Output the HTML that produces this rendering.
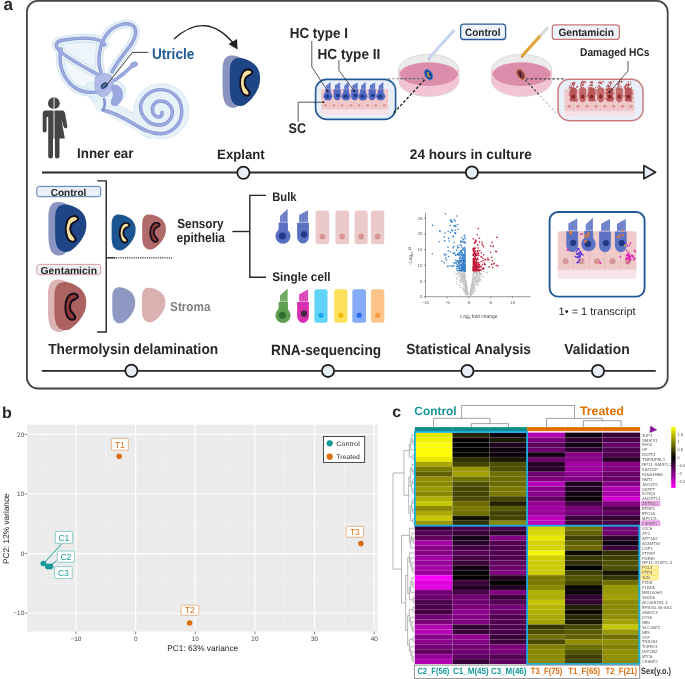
<!DOCTYPE html><html><head><meta charset="utf-8"><title>Figure</title><style>html,body{margin:0;padding:0;background:#fff;width:685px;height:679px;overflow:hidden}svg{display:block;text-rendering:geometricPrecision;will-change:transform}</style></head><body><svg width="685" height="679" viewBox="0 0 685 679" font-family='"Liberation Sans", sans-serif'><text x="3.5" y="10.3" font-size="17" font-weight="bold" fill="#262626" text-anchor="start" >a</text>
<rect x="26.9" y="0.9" width="640.8" height="387.6" rx="11" fill="none" stroke="#454545" stroke-width="1.8"/>
<line x1="42" y1="172.5" x2="644" y2="172.5" stroke="#2a2a2a" stroke-width="1.8"/>
<polygon points="643.9,165.6 643.9,178.8 655.6,172.2" fill="#e8eef8" stroke="#262626" stroke-width="1.7" stroke-linejoin="round"/>
<line x1="41.7" y1="370.8" x2="655.8" y2="370.8" stroke="#2a2a2a" stroke-width="1.8"/>
<circle cx="243.4" cy="172.7" r="6.1" fill="#e8eef8" stroke="#1e1e1e" stroke-width="1.8"/>
<circle cx="471.9" cy="172.5" r="6.1" fill="#e8eef8" stroke="#1e1e1e" stroke-width="1.8"/>
<circle cx="131.4" cy="370.8" r="6.1" fill="#e8eef8" stroke="#1e1e1e" stroke-width="1.8"/>
<circle cx="328" cy="370.9" r="6.1" fill="#e8eef8" stroke="#1e1e1e" stroke-width="1.8"/>
<circle cx="467.4" cy="371" r="6.1" fill="#e8eef8" stroke="#1e1e1e" stroke-width="1.8"/>
<circle cx="598" cy="371" r="6.1" fill="#e8eef8" stroke="#1e1e1e" stroke-width="1.8"/>
<text x="77" y="158.1" font-size="14" font-weight="bold" fill="#262626" text-anchor="start" textLength="56.5" lengthAdjust="spacingAndGlyphs" >Inner ear</text>
<text x="217.1" y="158.6" font-size="13.6" font-weight="bold" fill="#262626" text-anchor="start" textLength="47.6" lengthAdjust="spacingAndGlyphs" >Explant</text>
<text x="409.8" y="158.8" font-size="13.8" font-weight="bold" fill="#262626" text-anchor="start" textLength="122" lengthAdjust="spacingAndGlyphs" >24 hours in culture</text>
<text x="48.2" y="353.9" font-size="14.7" font-weight="bold" fill="#262626" text-anchor="start" textLength="170" lengthAdjust="spacingAndGlyphs" >Thermolysin delamination</text>
<text x="271.1" y="354.6" font-size="14.8" font-weight="bold" fill="#262626" text-anchor="start" textLength="110" lengthAdjust="spacingAndGlyphs" >RNA-sequencing</text>
<text x="406.2" y="353.9" font-size="14.6" font-weight="bold" fill="#262626" text-anchor="start" textLength="124.8" lengthAdjust="spacingAndGlyphs" >Statistical Analysis</text>
<text x="564.3" y="353.9" font-size="14.6" font-weight="bold" fill="#262626" text-anchor="start" textLength="65.3" lengthAdjust="spacingAndGlyphs" >Validation</text>
<g fill="#454545"><circle cx="53.9" cy="103.2" r="5.9"/><path d="M45.5 110.6 H62.5 Q64 110.6 65 113 L67.3 126 Q67.6 128.4 65.6 128.4 Q64 128.4 63.6 126.6 L61.5 119.5 L64.8 138.4 H59.5 V156.6 Q59.5 158.6 57.1 158.6 Q54.8 158.6 54.8 156.6 V138.4 H53 V156.6 Q53 158.6 50.6 158.6 Q48.2 158.6 48.2 156.6 V117 H46.6 V130.5 Q46.6 132.4 44.6 132.4 Q42.7 132.4 42.7 130.5 V114 Q42.7 110.6 45.5 110.6 Z"/></g>
<line x1="54" y1="96" x2="54" y2="159" stroke="#ffffff" stroke-width="0.9"/>
<path d="M99 75 C86 68 66 58 59 50 C54 45 56 41 64 40 C76 38 92 37 101 41 C103 42 104 43 104.5 45 L100 72 Z" fill="#eef5fa"/>
<path d="M61 49 C58 62 62 78 74 87 C84 94 98 94 106 88 L99 75 C86 68 66 58 61 49 Z" fill="#f1f7fb"/>
<circle cx="161.4" cy="111.2" r="27.6" fill="#e7f1f8" stroke="#cfe2ee" stroke-width="0.8"/>
<path d="M92 88 C96 100 104 106 118 112 C128 116 140 126 150 132" fill="none" stroke="#cfe2ee" stroke-width="13" stroke-linecap="round"/>
<path d="M92 88 C96 100 104 106 118 112 C128 116 140 126 150 132" fill="none" stroke="#e7f1f8" stroke-width="11.4" stroke-linecap="round"/>
<ellipse cx="109" cy="92" rx="17" ry="13" fill="#e7f1f8" stroke="#cfe2ee" stroke-width="0.8"/>
<path d="M101 72 C97 62 99 44 107 34 C114 25 126 22 132 25 C138 28 136 38 130 46 C124 54 117 62 112 72" fill="none" stroke="#cfe2ee" stroke-width="8.6" stroke-linecap="round"/>
<path d="M99 75 C86 68 66 58 59 50 C54 45 56 41 64 40 C76 38 92 37 101 41 C103 42 104 43 104.5 45" fill="none" stroke="#cfe2ee" stroke-width="8.6" stroke-linecap="round"/>
<path d="M61 49 C58 62 62 78 74 87 C84 94 98 94 106 88" fill="none" stroke="#cfe2ee" stroke-width="8.6" stroke-linecap="round"/>
<path d="M101 72 C97 62 99 44 107 34 C114 25 126 22 132 25 C138 28 136 38 130 46 C124 54 117 62 112 72" fill="none" stroke="#e7f1f8" stroke-width="7" stroke-linecap="round"/>
<path d="M99 75 C86 68 66 58 59 50 C54 45 56 41 64 40 C76 38 92 37 101 41 C103 42 104 43 104.5 45" fill="none" stroke="#e7f1f8" stroke-width="7" stroke-linecap="round"/>
<path d="M61 49 C58 62 62 78 74 87 C84 94 98 94 106 88" fill="none" stroke="#e7f1f8" stroke-width="7" stroke-linecap="round"/>
<ellipse cx="109" cy="92" rx="16.2" ry="12.2" fill="#e7f1f8"/>
<circle cx="161.4" cy="111.2" r="27.2" fill="#e7f1f8"/>
<path d="M100 106 C110 110 124 118 134 124 C142 129 150 133.7 160.8 133.7" fill="none" stroke="#e7f1f8" stroke-width="10" stroke-linecap="round"/>
<path d="M101 72 C97 62 99 44 107 34 C114 25 126 22 132 25 C138 28 136 38 130 46 C124 54 117 62 112 72" fill="none" stroke="#8193d2" stroke-width="3.4" stroke-linecap="round"/>
<path d="M99 75 C86 68 66 58 59 50 C54 45 56 41 64 40 C76 38 92 37 101 41 C103 42 104 43 104.5 45" fill="none" stroke="#8193d2" stroke-width="3.4" stroke-linecap="round"/>
<path d="M61 49 C58 62 62 78 74 87 C84 94 98 94 106 88" fill="none" stroke="#8193d2" stroke-width="3.4" stroke-linecap="round"/>
<path d="M115 80 C121 76 127 71 132 66" fill="none" stroke="#8193d2" stroke-width="3.4" stroke-linecap="round"/>
<path d="M103 110 C112 112 124 118 134 124 C142 129 150 133.7 160.8 133.7 A21.5 22 0 0 0 181.7 110 A21 21 0 0 0 160.6 89.6 A20.5 20.5 0 0 0 140.5 105.5 A19 19 0 0 0 160.6 125 A13.5 13.5 0 0 0 172.5 111.5 A12 12 0 0 0 160.6 101 A8 8 0 0 0 152.5 110.5 A6.5 6.5 0 0 0 159.5 117 A4 4 0 0 0 162 112.5" fill="none" stroke="#8193d2" stroke-width="3.4" stroke-linecap="round"/>
<path d="M101 72 C97 62 99 44 107 34 C114 25 126 22 132 25 C138 28 136 38 130 46 C124 54 117 62 112 72" fill="none" stroke="#9eabe0" stroke-width="2" stroke-linecap="round"/>
<path d="M99 75 C86 68 66 58 59 50 C54 45 56 41 64 40 C76 38 92 37 101 41 C103 42 104 43 104.5 45" fill="none" stroke="#9eabe0" stroke-width="2" stroke-linecap="round"/>
<path d="M61 49 C58 62 62 78 74 87 C84 94 98 94 106 88" fill="none" stroke="#9eabe0" stroke-width="2" stroke-linecap="round"/>
<path d="M115 80 C121 76 127 71 132 66" fill="none" stroke="#9eabe0" stroke-width="2" stroke-linecap="round"/>
<path d="M103 110 C112 112 124 118 134 124 C142 129 150 133.7 160.8 133.7 A21.5 22 0 0 0 181.7 110 A21 21 0 0 0 160.6 89.6 A20.5 20.5 0 0 0 140.5 105.5 A19 19 0 0 0 160.6 125 A13.5 13.5 0 0 0 172.5 111.5 A12 12 0 0 0 160.6 101 A8 8 0 0 0 152.5 110.5 A6.5 6.5 0 0 0 159.5 117 A4 4 0 0 0 162 112.5" fill="none" stroke="#9eabe0" stroke-width="2" stroke-linecap="round"/>
<ellipse cx="134" cy="64.6" rx="3.6" ry="2.6" fill="#9eabe0" stroke="#8193d2" stroke-width="0.6" transform="rotate(-20 134 64.6)"/>
<path d="M95 78 C98 73 105 72 110 75 C114 78 114 84 112 89 C110 94 106 97 102 96.5 C98 96 95.5 92 95 88 Z" fill="#aab6e4" fill-opacity="0.9" stroke="#8193d2" stroke-width="0.5"/>
<path d="M112 86 C117 83 123 88 122.5 95 C122 102 118 106.5 113.5 105.5 C110 104.5 111 100 113 97 C114.5 94 110.5 89 112 86 Z" fill="#98a7de" stroke="#8193d2" stroke-width="0.5"/>
<path d="M104 99 C106 104 104 108 103 110" fill="none" stroke="#8193d2" stroke-width="2.6" stroke-linecap="round"/>
<ellipse cx="104.3" cy="85.6" rx="4" ry="2.6" fill="#1a4a8a" transform="rotate(-40 104.3 85.6)"/>
<path d="M102.5 87.5 Q104 84.8 106 84" stroke="#d8a060" stroke-width="0.9" fill="none"/>
<path d="M106 85.8 L132.4 52.4 H148.5" fill="none" stroke="#2a2a2a" stroke-width="0.9"/>
<text x="151.9" y="58.5" font-size="15.1" font-weight="bold" fill="#1f5a96" text-anchor="start" textLength="42.5" lengthAdjust="spacingAndGlyphs" >Utricle</text>
<path d="M174 39 Q206 10 234 44" fill="none" stroke="#222" stroke-width="1.4"/>
<polygon points="228.5,44 237.6,49.5 237,39" fill="#222"/>
<g transform="translate(229.8 57.5) scale(0.97 1.0)"><path transform="translate(-7.5 -2.5) scale(1.0 1.09)" d="M0 14 C0 6 2.5 1 8 0.5 C13 0 17 1.5 21 3.7 C25.5 6 29.5 10 30.8 16 C31.8 21 31.2 28 28.2 33 C25.2 39 20.2 44 15.2 47.5 C11.2 49.5 6.2 48.5 3.2 45 C0.7 42 0 35 0 29.4 Z" fill="#8b94c1"/><path d="M0 14 C0 6 2.5 1 8 0.5 C13 0 17 1.5 21 3.7 C25.5 6 29.5 10 30.8 16 C31.8 21 31.2 28 28.2 33 C25.2 39 20.2 44 15.2 47.5 C11.2 49.5 6.2 48.5 3.2 45 C0.7 42 0 35 0 29.4 Z" fill="#1e4586"/><path d="M21.8 12.8 C19 10.8 14.5 12.2 12.5 16.4 C10.2 21.7 10.2 29.2 12.5 34.4 C14 38 18 38.8 19.8 37.2 C21 35.8 20.2 34 19 32.8 C15.6 29.5 14.4 24.7 16.2 20.6 C17.6 17.8 21.6 17.6 22.8 15.8 C23.4 14.6 22.8 13.5 21.8 12.8 Z" fill="#f6e3a0" stroke="#140c1a" stroke-width="2.0" stroke-linejoin="round"/></g>
<g transform="translate(55.1 204.2) scale(1.0 0.986)"><path transform="translate(-6.7 -2.7) scale(1.0 1.13)" d="M0 14 C0 6 2.5 1 8 0.5 C13 0 17 1.5 21 3.7 C25.5 6 29.5 10 30.8 16 C31.8 21 31.2 28 28.2 33 C25.2 39 20.2 44 15.2 47.5 C11.2 49.5 6.2 48.5 3.2 45 C0.7 42 0 35 0 29.4 Z" fill="#8b94c1"/><path d="M0 14 C0 6 2.5 1 8 0.5 C13 0 17 1.5 21 3.7 C25.5 6 29.5 10 30.8 16 C31.8 21 31.2 28 28.2 33 C25.2 39 20.2 44 15.2 47.5 C11.2 49.5 6.2 48.5 3.2 45 C0.7 42 0 35 0 29.4 Z" fill="#1e4586"/><path d="M21.8 12.8 C19 10.8 14.5 12.2 12.5 16.4 C10.2 21.7 10.2 29.2 12.5 34.4 C14 38 18 38.8 19.8 37.2 C21 35.8 20.2 34 19 32.8 C15.6 29.5 14.4 24.7 16.2 20.6 C17.6 17.8 21.6 17.6 22.8 15.8 C23.4 14.6 22.8 13.5 21.8 12.8 Z" fill="#f6e3a0" stroke="#140c1a" stroke-width="2.0" stroke-linejoin="round"/></g>
<g transform="translate(54.4 281.7) scale(1.02 1.0)"><path transform="translate(-6.3 -2.6) scale(1.0 1.09)" d="M0 14 C0 6 2.5 1 8 0.5 C13 0 17 1.5 21 3.7 C25.5 6 29.5 10 30.8 16 C31.8 21 31.2 28 28.2 33 C25.2 39 20.2 44 15.2 47.5 C11.2 49.5 6.2 48.5 3.2 45 C0.7 42 0 35 0 29.4 Z" fill="#dcb4b4"/><path d="M0 14 C0 6 2.5 1 8 0.5 C13 0 17 1.5 21 3.7 C25.5 6 29.5 10 30.8 16 C31.8 21 31.2 28 28.2 33 C25.2 39 20.2 44 15.2 47.5 C11.2 49.5 6.2 48.5 3.2 45 C0.7 42 0 35 0 29.4 Z" fill="#ad6262"/><path d="M21.8 12.8 C19 10.8 14.5 12.2 12.5 16.4 C10.2 21.7 10.2 29.2 12.5 34.4 C14 38 18 38.8 19.8 37.2 C21 35.8 20.2 34 19 32.8 C15.6 29.5 14.4 24.7 16.2 20.6 C17.6 17.8 21.6 17.6 22.8 15.8 C23.4 14.6 22.8 13.5 21.8 12.8 Z" fill="#8e3838" stroke="#140c1a" stroke-width="2.0" stroke-linejoin="round"/></g>
<g transform="translate(111.6 214.1) scale(0.77 0.75)"><path d="M0 14 C0 6 2.5 1 8 0.5 C13 0 17 1.5 21 3.7 C25.5 6 29.5 10 30.8 16 C31.8 21 31.2 28 28.2 33 C25.2 39 20.2 44 15.2 47.5 C11.2 49.5 6.2 48.5 3.2 45 C0.7 42 0 35 0 29.4 Z" fill="#1c5590"/><path d="M21.8 12.8 C19 10.8 14.5 12.2 12.5 16.4 C10.2 21.7 10.2 29.2 12.5 34.4 C14 38 18 38.8 19.8 37.2 C21 35.8 20.2 34 19 32.8 C15.6 29.5 14.4 24.7 16.2 20.6 C17.6 17.8 21.6 17.6 22.8 15.8 C23.4 14.6 22.8 13.5 21.8 12.8 Z" fill="#f6e3a0" stroke="#140c1a" stroke-width="2.3" stroke-linejoin="round"/></g>
<g transform="translate(142.2 214.1) scale(0.76 0.73)"><path d="M0 14 C0 6 2.5 1 8 0.5 C13 0 17 1.5 21 3.7 C25.5 6 29.5 10 30.8 16 C31.8 21 31.2 28 28.2 33 C25.2 39 20.2 44 15.2 47.5 C11.2 49.5 6.2 48.5 3.2 45 C0.7 42 0 35 0 29.4 Z" fill="#b06a6a"/><path d="M21.8 12.8 C19 10.8 14.5 12.2 12.5 16.4 C10.2 21.7 10.2 29.2 12.5 34.4 C14 38 18 38.8 19.8 37.2 C21 35.8 20.2 34 19 32.8 C15.6 29.5 14.4 24.7 16.2 20.6 C17.6 17.8 21.6 17.6 22.8 15.8 C23.4 14.6 22.8 13.5 21.8 12.8 Z" fill="#8b3a3a" stroke="#140c1a" stroke-width="2.3" stroke-linejoin="round"/></g>
<g transform="translate(112.3 286.9) scale(0.734 0.75)"><path d="M0 14 C0 6 2.5 1 8 0.5 C13 0 17 1.5 21 3.7 C25.5 6 29.5 10 30.8 16 C31.8 21 31.2 28 28.2 33 C25.2 39 20.2 44 15.2 47.5 C11.2 49.5 6.2 48.5 3.2 45 C0.7 42 0 35 0 29.4 Z" fill="#8e98c2"/></g>
<g transform="translate(141.9 287.5) scale(0.753 0.718)"><path d="M0 14 C0 6 2.5 1 8 0.5 C13 0 17 1.5 21 3.7 C25.5 6 29.5 10 30.8 16 C31.8 21 31.2 28 28.2 33 C25.2 39 20.2 44 15.2 47.5 C11.2 49.5 6.2 48.5 3.2 45 C0.7 42 0 35 0 29.4 Z" fill="#dbb0b0"/></g>
<rect x="36.8" y="186.4" width="63.9" height="10.3" rx="2.5" fill="#eaf0f9" stroke="#3d6eab" stroke-width="0.9"/>
<text x="50.7" y="195.7" font-size="10.2" font-weight="bold" fill="#222" text-anchor="start" textLength="35.6" lengthAdjust="spacingAndGlyphs" >Control</text>
<rect x="36.8" y="264.4" width="63.9" height="10.3" rx="2.5" fill="#eef0f6" stroke="#d49595" stroke-width="0.9"/>
<text x="40.5" y="273.6" font-size="10.2" font-weight="bold" fill="#222" text-anchor="start" textLength="56.5" lengthAdjust="spacingAndGlyphs" >Gentamicin</text>
<path d="M97.2 180.9 H106.2 V332 H97.2" fill="none" stroke="#262626" stroke-width="1.4"/>
<line x1="106" y1="257.8" x2="115.3" y2="257.8" stroke="#262626" stroke-width="1.4"/>
<line x1="116" y1="257.8" x2="172.6" y2="257.8" stroke="#262626" stroke-width="1.2" stroke-dasharray="1.1 1.1"/>
<text x="177.3" y="227.5" font-size="13.1" font-weight="bold" fill="#262626" text-anchor="start" textLength="46.3" lengthAdjust="spacingAndGlyphs" >Sensory</text>
<text x="176.6" y="241.6" font-size="13.1" font-weight="bold" fill="#262626" text-anchor="start" textLength="48.4" lengthAdjust="spacingAndGlyphs" >epithelia</text>
<text x="170.1" y="310.8" font-size="12.9" font-weight="bold" fill="#7e7e7e" text-anchor="start" textLength="40.3" lengthAdjust="spacingAndGlyphs" >Stroma</text>
<path d="M232.4 231.5 H249.8" stroke="#262626" stroke-width="1.4" fill="none"/>
<path d="M266 195.4 H249.8 V277.3 H266" stroke="#262626" stroke-width="1.4" fill="none"/>
<text x="272.2" y="201.1" font-size="12.4" font-weight="bold" fill="#262626" text-anchor="start" textLength="24.3" lengthAdjust="spacingAndGlyphs" >Bulk</text>
<text x="272.2" y="280.6" font-size="12.4" font-weight="bold" fill="#262626" text-anchor="start" textLength="58.3" lengthAdjust="spacingAndGlyphs" >Single cell</text>
<g transform="translate(283 243.6) scale(1.0 1.0)"><polygon points="-3,-21.2 -3,-27.5 4.6,-34.5 4.6,-21.2" fill="#5a6fc0" opacity="0.92"/><path d="M-0.5 -21.5 V-29.8 M1.9 -21.5 V-32 M-1.8 -21.5 V-28.4" stroke="#ffffff" stroke-opacity="0.22" stroke-width="0.6"/><circle cx="0" cy="-7.5" r="7.6" fill="#5a6fc0"/><path d="M-4.4 -21 H4.9 V-17 C4.9 -15 4.4 -13.5 6 -11 L-5.6 -11 C-4.1 -13.5 -4.4 -15 -4.4 -17 Z" fill="#5a6fc0"/><circle cx="-0.6" cy="-7.6" r="3.5" fill="#213a8a"/><path d="M-3.6 -21.6 H4.6" stroke="#ffffff" stroke-opacity="0.75" stroke-width="0.55" stroke-dasharray="0.6 0.5"/></g>
<g transform="translate(303 243.6) scale(1.0 1.0)"><polygon points="-3.8,-21.2 -3.8,-28.6 5,-33.4 5,-21.2" fill="#5a6fc0" opacity="0.92"/><path d="M-1.2 -21.5 V-30 M1.4 -21.5 V-31.5 M3.4 -21.5 V-32.5" stroke="#ffffff" stroke-opacity="0.22" stroke-width="0.6"/><path d="M-5.9 -20.8 H5.9 V-7 C5.9 -3 3 0 0 0 C-3 0 -5.9 -3 -5.9 -7 Z" fill="#5a6fc0"/><circle cx="1" cy="-9.2" r="3.1" fill="#213a8a"/><path d="M-4.2 -21.6 H5" stroke="#ffffff" stroke-opacity="0.75" stroke-width="0.55" stroke-dasharray="0.6 0.5"/></g>
<rect x="315.6" y="210.4" width="13.599999999999966" height="33.8" rx="2.5" fill="#ecc9ca"/>
<circle cx="322.4" cy="236.6" r="2.9" fill="#d69595"/>
<rect x="335.4" y="210.4" width="13.700000000000045" height="33.8" rx="2.5" fill="#ecc9ca"/>
<circle cx="342.25" cy="236.6" r="2.9" fill="#d69595"/>
<rect x="354.6" y="210.4" width="13.099999999999966" height="33.8" rx="2.5" fill="#ecc9ca"/>
<circle cx="361.15" cy="236.6" r="2.9" fill="#d69595"/>
<rect x="371" y="210.4" width="13.300000000000011" height="33.8" rx="2.5" fill="#ecc9ca"/>
<circle cx="377.65" cy="236.6" r="2.9" fill="#d69595"/>
<g transform="translate(283 322.9) scale(1.0 1.0)"><polygon points="-3,-21.2 -3,-27.5 4.6,-34.5 4.6,-21.2" fill="#5d9e50" opacity="0.92"/><path d="M-0.5 -21.5 V-29.8 M1.9 -21.5 V-32 M-1.8 -21.5 V-28.4" stroke="#ffffff" stroke-opacity="0.22" stroke-width="0.6"/><circle cx="0" cy="-7.5" r="7.6" fill="#5d9e50"/><path d="M-4.4 -21 H4.9 V-17 C4.9 -15 4.4 -13.5 6 -11 L-5.6 -11 C-4.1 -13.5 -4.4 -15 -4.4 -17 Z" fill="#5d9e50"/><circle cx="-0.6" cy="-7.6" r="3.5" fill="#2f6b2a"/><path d="M-3.6 -21.6 H4.6" stroke="#ffffff" stroke-opacity="0.75" stroke-width="0.55" stroke-dasharray="0.6 0.5"/></g>
<g transform="translate(303 322.9) scale(1.0 1.0)"><polygon points="-3.8,-21.2 -3.8,-28.6 5,-33.4 5,-21.2" fill="#d630b0" opacity="0.92"/><path d="M-1.2 -21.5 V-30 M1.4 -21.5 V-31.5 M3.4 -21.5 V-32.5" stroke="#ffffff" stroke-opacity="0.22" stroke-width="0.6"/><path d="M-5.9 -20.8 H5.9 V-7 C5.9 -3 3 0 0 0 C-3 0 -5.9 -3 -5.9 -7 Z" fill="#d630b0"/><circle cx="1" cy="-9.2" r="3.1" fill="#40283e"/><path d="M-4.2 -21.6 H5" stroke="#ffffff" stroke-opacity="0.75" stroke-width="0.55" stroke-dasharray="0.6 0.5"/></g>
<rect x="314.4" y="289.2" width="13.100000000000023" height="33.6" rx="2.5" fill="#61d3fa"/>
<circle cx="320.95" cy="315.3" r="2.6" fill="#1aa8f0"/>
<rect x="334.2" y="289.2" width="13.199999999999989" height="33.6" rx="2.5" fill="#fde15a"/>
<circle cx="340.79999999999995" cy="315.3" r="2.6" fill="#f5b800"/>
<rect x="352.3" y="289.2" width="13.699999999999989" height="33.6" rx="2.5" fill="#86acf8"/>
<circle cx="359.15" cy="315.3" r="2.6" fill="#2a68f0"/>
<rect x="371" y="289.2" width="13.300000000000011" height="33.6" rx="2.5" fill="#fdc489"/>
<circle cx="377.65" cy="315.3" r="2.6" fill="#f59a40"/>
<g stroke="#555" stroke-width="0.6" fill="none"><line x1="425.5" y1="212.6" x2="425.5" y2="296.9"/><line x1="425.3" y1="296.7" x2="530.3" y2="296.7"/>
<line x1="425.3" y1="296.7" x2="425.3" y2="298.3"/>
<line x1="447.15" y1="296.7" x2="447.15" y2="298.3"/>
<line x1="469.0" y1="296.7" x2="469.0" y2="298.3"/>
<line x1="490.85" y1="296.7" x2="490.85" y2="298.3"/>
<line x1="512.7" y1="296.7" x2="512.7" y2="298.3"/>
<line x1="424" y1="296.7" x2="425.5" y2="296.7"/>
<line x1="424" y1="281.0" x2="425.5" y2="281.0"/>
<line x1="424" y1="265.3" x2="425.5" y2="265.3"/>
<line x1="424" y1="249.6" x2="425.5" y2="249.6"/>
<line x1="424" y1="233.89999999999998" x2="425.5" y2="233.89999999999998"/>
<line x1="424" y1="218.2" x2="425.5" y2="218.2"/>
</g>
<text x="425.3" y="304.2" font-size="4.4" font-weight="normal" fill="#555" text-anchor="middle" >&#8722;10</text>
<text x="447.15" y="304.2" font-size="4.4" font-weight="normal" fill="#555" text-anchor="middle" >&#8722;5</text>
<text x="469.0" y="304.2" font-size="4.4" font-weight="normal" fill="#555" text-anchor="middle" >0</text>
<text x="490.85" y="304.2" font-size="4.4" font-weight="normal" fill="#555" text-anchor="middle" >5</text>
<text x="512.7" y="304.2" font-size="4.4" font-weight="normal" fill="#555" text-anchor="middle" >10</text>
<text x="422.5" y="298.2" font-size="4.4" font-weight="normal" fill="#555" text-anchor="end" >0</text>
<text x="422.5" y="282.5" font-size="4.4" font-weight="normal" fill="#555" text-anchor="end" >5</text>
<text x="422.5" y="266.8" font-size="4.4" font-weight="normal" fill="#555" text-anchor="end" >10</text>
<text x="422.5" y="251.1" font-size="4.4" font-weight="normal" fill="#555" text-anchor="end" >15</text>
<text x="422.5" y="235.39999999999998" font-size="4.4" font-weight="normal" fill="#555" text-anchor="end" >20</text>
<text x="422.5" y="219.7" font-size="4.4" font-weight="normal" fill="#555" text-anchor="end" >25</text>
<text x="479" y="317.8" font-size="5" font-weight="normal" fill="#444" text-anchor="middle" >Log<tspan font-size="3" dy="1">2</tspan><tspan dy="-1"> fold change</tspan></text>
<text transform="translate(412 256) rotate(-90)" font-size="5" fill="#444" text-anchor="middle">-Log<tspan font-size="3" dy="1">10</tspan><tspan dy="-1"> </tspan><tspan font-style="italic">P</tspan></text>
<g fill="#c4c4c4"><circle cx="473.7" cy="286.0" r="0.7"/><circle cx="476.4" cy="281.1" r="0.7"/><circle cx="470.6" cy="293.0" r="0.7"/><circle cx="470.2" cy="292.6" r="0.7"/><circle cx="472.3" cy="283.6" r="0.7"/><circle cx="463.9" cy="279.1" r="0.7"/><circle cx="480.9" cy="280.2" r="0.7"/><circle cx="481.5" cy="274.2" r="0.7"/><circle cx="466.2" cy="290.5" r="0.7"/><circle cx="466.0" cy="289.6" r="0.7"/><circle cx="476.0" cy="278.8" r="0.7"/><circle cx="471.6" cy="293.0" r="0.7"/><circle cx="462.2" cy="277.9" r="0.7"/><circle cx="472.9" cy="283.0" r="0.7"/><circle cx="464.2" cy="275.5" r="0.7"/><circle cx="463.5" cy="281.3" r="0.7"/><circle cx="475.5" cy="276.9" r="0.7"/><circle cx="457.3" cy="283.8" r="0.7"/><circle cx="466.9" cy="290.3" r="0.7"/><circle cx="465.4" cy="276.1" r="0.7"/><circle cx="462.0" cy="273.8" r="0.7"/><circle cx="477.8" cy="280.1" r="0.7"/><circle cx="459.7" cy="274.6" r="0.7"/><circle cx="467.2" cy="292.9" r="0.7"/><circle cx="480.3" cy="278.6" r="0.7"/><circle cx="466.4" cy="284.5" r="0.7"/><circle cx="470.8" cy="294.2" r="0.7"/><circle cx="467.6" cy="293.0" r="0.7"/><circle cx="467.5" cy="290.9" r="0.7"/><circle cx="472.0" cy="292.3" r="0.7"/><circle cx="460.7" cy="280.8" r="0.7"/><circle cx="474.4" cy="287.1" r="0.7"/><circle cx="477.1" cy="285.1" r="0.7"/><circle cx="474.4" cy="289.7" r="0.7"/><circle cx="474.2" cy="288.2" r="0.7"/><circle cx="470.1" cy="294.9" r="0.7"/><circle cx="459.5" cy="284.9" r="0.7"/><circle cx="462.4" cy="281.5" r="0.7"/><circle cx="456.6" cy="278.0" r="0.7"/><circle cx="461.4" cy="273.8" r="0.7"/><circle cx="465.4" cy="284.4" r="0.7"/><circle cx="470.6" cy="292.9" r="0.7"/><circle cx="471.9" cy="288.8" r="0.7"/><circle cx="470.8" cy="295.1" r="0.7"/><circle cx="467.4" cy="291.7" r="0.7"/><circle cx="472.8" cy="279.4" r="0.7"/><circle cx="472.3" cy="287.7" r="0.7"/><circle cx="461.2" cy="274.4" r="0.7"/><circle cx="473.1" cy="282.7" r="0.7"/><circle cx="471.3" cy="285.5" r="0.7"/><circle cx="464.7" cy="274.8" r="0.7"/><circle cx="472.5" cy="281.3" r="0.7"/><circle cx="461.4" cy="280.9" r="0.7"/><circle cx="464.1" cy="274.1" r="0.7"/><circle cx="466.0" cy="287.5" r="0.7"/><circle cx="464.4" cy="281.2" r="0.7"/><circle cx="465.9" cy="285.8" r="0.7"/><circle cx="455.8" cy="274.3" r="0.7"/><circle cx="465.1" cy="275.0" r="0.7"/><circle cx="473.5" cy="285.2" r="0.7"/><circle cx="467.8" cy="294.0" r="0.7"/><circle cx="477.4" cy="272.2" r="0.7"/><circle cx="486.9" cy="272.5" r="0.7"/><circle cx="471.3" cy="288.5" r="0.7"/><circle cx="466.4" cy="289.1" r="0.7"/><circle cx="479.7" cy="274.5" r="0.7"/><circle cx="465.2" cy="278.5" r="0.7"/><circle cx="462.9" cy="273.1" r="0.7"/><circle cx="462.5" cy="276.4" r="0.7"/><circle cx="466.6" cy="285.8" r="0.7"/><circle cx="460.3" cy="271.8" r="0.7"/><circle cx="475.3" cy="277.0" r="0.7"/><circle cx="465.0" cy="291.0" r="0.7"/><circle cx="463.8" cy="290.5" r="0.7"/><circle cx="461.9" cy="271.7" r="0.7"/><circle cx="472.0" cy="290.9" r="0.7"/><circle cx="460.8" cy="271.9" r="0.7"/><circle cx="463.1" cy="283.4" r="0.7"/><circle cx="473.6" cy="274.8" r="0.7"/><circle cx="465.2" cy="288.0" r="0.7"/><circle cx="465.8" cy="287.6" r="0.7"/><circle cx="472.0" cy="285.3" r="0.7"/><circle cx="462.5" cy="280.0" r="0.7"/><circle cx="464.1" cy="281.9" r="0.7"/><circle cx="475.9" cy="281.4" r="0.7"/><circle cx="467.9" cy="294.9" r="0.7"/><circle cx="463.9" cy="289.8" r="0.7"/><circle cx="466.1" cy="285.9" r="0.7"/><circle cx="465.7" cy="280.7" r="0.7"/><circle cx="472.1" cy="287.8" r="0.7"/><circle cx="459.2" cy="276.0" r="0.7"/><circle cx="473.3" cy="273.1" r="0.7"/><circle cx="460.9" cy="279.4" r="0.7"/><circle cx="466.3" cy="283.0" r="0.7"/><circle cx="461.1" cy="282.4" r="0.7"/><circle cx="476.2" cy="272.4" r="0.7"/><circle cx="479.1" cy="280.6" r="0.7"/><circle cx="471.7" cy="291.1" r="0.7"/><circle cx="467.7" cy="292.6" r="0.7"/><circle cx="463.5" cy="275.7" r="0.7"/><circle cx="471.2" cy="290.3" r="0.7"/><circle cx="457.4" cy="273.7" r="0.7"/><circle cx="473.2" cy="288.6" r="0.7"/><circle cx="463.1" cy="271.5" r="0.7"/><circle cx="473.0" cy="290.1" r="0.7"/><circle cx="471.9" cy="289.2" r="0.7"/><circle cx="478.3" cy="277.0" r="0.7"/><circle cx="470.2" cy="294.3" r="0.7"/><circle cx="464.3" cy="279.1" r="0.7"/><circle cx="465.3" cy="275.6" r="0.7"/><circle cx="467.6" cy="291.6" r="0.7"/><circle cx="471.7" cy="287.3" r="0.7"/><circle cx="476.8" cy="283.7" r="0.7"/><circle cx="465.4" cy="290.4" r="0.7"/><circle cx="472.5" cy="280.3" r="0.7"/><circle cx="474.2" cy="277.8" r="0.7"/><circle cx="465.6" cy="292.6" r="0.7"/><circle cx="466.8" cy="292.2" r="0.7"/><circle cx="471.4" cy="292.7" r="0.7"/><circle cx="462.8" cy="280.7" r="0.7"/><circle cx="473.2" cy="287.3" r="0.7"/><circle cx="472.1" cy="291.5" r="0.7"/><circle cx="470.5" cy="293.2" r="0.7"/><circle cx="476.5" cy="276.2" r="0.7"/><circle cx="473.2" cy="281.9" r="0.7"/><circle cx="473.1" cy="287.8" r="0.7"/><circle cx="475.3" cy="276.8" r="0.7"/><circle cx="474.1" cy="272.6" r="0.7"/><circle cx="459.9" cy="275.0" r="0.7"/><circle cx="465.0" cy="284.3" r="0.7"/><circle cx="461.6" cy="277.8" r="0.7"/><circle cx="465.2" cy="277.4" r="0.7"/><circle cx="472.1" cy="284.1" r="0.7"/><circle cx="467.3" cy="292.6" r="0.7"/><circle cx="466.5" cy="287.6" r="0.7"/><circle cx="463.3" cy="273.9" r="0.7"/><circle cx="471.1" cy="287.0" r="0.7"/><circle cx="472.3" cy="290.2" r="0.7"/><circle cx="460.1" cy="287.5" r="0.7"/><circle cx="465.5" cy="287.9" r="0.7"/><circle cx="471.2" cy="286.3" r="0.7"/><circle cx="466.2" cy="282.5" r="0.7"/><circle cx="471.0" cy="289.0" r="0.7"/><circle cx="470.3" cy="292.1" r="0.7"/><circle cx="471.4" cy="293.5" r="0.7"/><circle cx="465.5" cy="280.0" r="0.7"/><circle cx="461.3" cy="276.4" r="0.7"/><circle cx="475.7" cy="284.4" r="0.7"/><circle cx="459.4" cy="271.6" r="0.7"/><circle cx="465.9" cy="293.5" r="0.7"/><circle cx="459.0" cy="273.5" r="0.7"/><circle cx="465.1" cy="290.7" r="0.7"/><circle cx="462.8" cy="281.8" r="0.7"/><circle cx="459.6" cy="280.0" r="0.7"/><circle cx="473.4" cy="277.9" r="0.7"/><circle cx="471.8" cy="290.8" r="0.7"/><circle cx="466.4" cy="291.6" r="0.7"/><circle cx="461.2" cy="279.1" r="0.7"/><circle cx="459.7" cy="282.1" r="0.7"/><circle cx="466.1" cy="281.8" r="0.7"/><circle cx="478.8" cy="278.4" r="0.7"/><circle cx="471.4" cy="292.5" r="0.7"/><circle cx="463.4" cy="276.9" r="0.7"/><circle cx="477.6" cy="282.0" r="0.7"/><circle cx="463.8" cy="282.4" r="0.7"/><circle cx="479.0" cy="278.7" r="0.7"/><circle cx="470.6" cy="290.4" r="0.7"/><circle cx="478.6" cy="280.4" r="0.7"/><circle cx="467.5" cy="292.9" r="0.7"/><circle cx="478.9" cy="278.0" r="0.7"/><circle cx="476.0" cy="281.5" r="0.7"/><circle cx="474.2" cy="273.4" r="0.7"/><circle cx="474.1" cy="271.7" r="0.7"/><circle cx="464.9" cy="275.0" r="0.7"/><circle cx="466.2" cy="283.0" r="0.7"/><circle cx="465.6" cy="288.8" r="0.7"/><circle cx="475.5" cy="290.6" r="0.7"/><circle cx="463.4" cy="275.0" r="0.7"/><circle cx="464.0" cy="273.6" r="0.7"/><circle cx="474.2" cy="282.2" r="0.7"/><circle cx="471.2" cy="294.9" r="0.7"/><circle cx="470.6" cy="290.6" r="0.7"/><circle cx="466.8" cy="286.2" r="0.7"/><circle cx="473.0" cy="274.6" r="0.7"/><circle cx="475.7" cy="272.8" r="0.7"/><circle cx="478.0" cy="284.8" r="0.7"/><circle cx="477.9" cy="271.3" r="0.7"/><circle cx="472.4" cy="287.2" r="0.7"/><circle cx="466.9" cy="291.7" r="0.7"/><circle cx="472.7" cy="287.8" r="0.7"/><circle cx="464.9" cy="281.6" r="0.7"/><circle cx="460.3" cy="273.6" r="0.7"/><circle cx="457.1" cy="279.0" r="0.7"/><circle cx="478.2" cy="277.1" r="0.7"/><circle cx="458.0" cy="276.8" r="0.7"/><circle cx="472.4" cy="286.9" r="0.7"/><circle cx="477.3" cy="272.8" r="0.7"/><circle cx="464.6" cy="286.6" r="0.7"/><circle cx="473.7" cy="271.7" r="0.7"/><circle cx="477.7" cy="280.6" r="0.7"/><circle cx="466.6" cy="289.9" r="0.7"/><circle cx="473.9" cy="282.0" r="0.7"/><circle cx="478.9" cy="273.2" r="0.7"/><circle cx="470.7" cy="289.3" r="0.7"/><circle cx="473.1" cy="285.5" r="0.7"/><circle cx="464.4" cy="280.3" r="0.7"/><circle cx="461.3" cy="276.5" r="0.7"/><circle cx="473.1" cy="284.7" r="0.7"/><circle cx="470.9" cy="292.9" r="0.7"/><circle cx="456.5" cy="281.8" r="0.7"/><circle cx="473.7" cy="274.1" r="0.7"/><circle cx="474.0" cy="284.2" r="0.7"/><circle cx="479.7" cy="272.2" r="0.7"/><circle cx="465.6" cy="293.8" r="0.7"/><circle cx="480.0" cy="273.4" r="0.7"/><circle cx="465.9" cy="284.4" r="0.7"/><circle cx="481.1" cy="274.9" r="0.7"/><circle cx="474.4" cy="291.5" r="0.7"/><circle cx="462.4" cy="281.4" r="0.7"/><circle cx="456.3" cy="278.6" r="0.7"/><circle cx="465.5" cy="282.9" r="0.7"/><circle cx="466.9" cy="288.2" r="0.7"/><circle cx="472.9" cy="278.7" r="0.7"/><circle cx="463.7" cy="278.9" r="0.7"/><circle cx="465.5" cy="291.4" r="0.7"/><circle cx="473.1" cy="284.5" r="0.7"/><circle cx="475.6" cy="279.6" r="0.7"/><circle cx="464.6" cy="272.1" r="0.7"/><circle cx="476.7" cy="273.6" r="0.7"/><circle cx="464.3" cy="272.1" r="0.7"/><circle cx="463.5" cy="286.4" r="0.7"/><circle cx="472.0" cy="283.7" r="0.7"/><circle cx="475.1" cy="278.2" r="0.7"/><circle cx="472.2" cy="285.6" r="0.7"/><circle cx="463.1" cy="277.9" r="0.7"/><circle cx="478.1" cy="281.8" r="0.7"/><circle cx="477.1" cy="271.9" r="0.7"/><circle cx="463.0" cy="288.5" r="0.7"/><circle cx="474.2" cy="286.7" r="0.7"/><circle cx="471.7" cy="288.5" r="0.7"/><circle cx="474.6" cy="278.3" r="0.7"/><circle cx="466.8" cy="288.7" r="0.7"/><circle cx="471.2" cy="290.6" r="0.7"/><circle cx="464.5" cy="273.3" r="0.7"/><circle cx="483.4" cy="276.8" r="0.7"/><circle cx="467.3" cy="289.4" r="0.7"/><circle cx="479.4" cy="276.5" r="0.7"/><circle cx="472.3" cy="284.8" r="0.7"/><circle cx="472.4" cy="289.9" r="0.7"/><circle cx="473.2" cy="272.2" r="0.7"/><circle cx="463.5" cy="272.0" r="0.7"/><circle cx="477.3" cy="274.9" r="0.7"/><circle cx="466.4" cy="293.3" r="0.7"/><circle cx="471.1" cy="289.2" r="0.7"/><circle cx="459.6" cy="273.4" r="0.7"/><circle cx="473.5" cy="276.1" r="0.7"/><circle cx="473.1" cy="293.8" r="0.7"/><circle cx="461.4" cy="276.5" r="0.7"/><circle cx="465.7" cy="285.6" r="0.7"/><circle cx="460.4" cy="287.5" r="0.7"/><circle cx="466.8" cy="286.2" r="0.7"/><circle cx="464.6" cy="273.0" r="0.7"/><circle cx="477.1" cy="272.4" r="0.7"/><circle cx="464.3" cy="272.1" r="0.7"/><circle cx="471.4" cy="284.5" r="0.7"/><circle cx="478.9" cy="272.7" r="0.7"/><circle cx="464.7" cy="275.3" r="0.7"/><circle cx="479.9" cy="279.5" r="0.7"/><circle cx="474.5" cy="286.1" r="0.7"/><circle cx="464.2" cy="289.1" r="0.7"/><circle cx="466.5" cy="287.9" r="0.7"/><circle cx="466.5" cy="285.9" r="0.7"/><circle cx="477.1" cy="273.7" r="0.7"/><circle cx="470.4" cy="291.9" r="0.7"/><circle cx="475.6" cy="277.3" r="0.7"/><circle cx="464.9" cy="279.2" r="0.7"/><circle cx="476.5" cy="276.5" r="0.7"/><circle cx="479.0" cy="274.5" r="0.7"/><circle cx="476.6" cy="280.4" r="0.7"/><circle cx="473.9" cy="287.8" r="0.7"/><circle cx="472.6" cy="290.3" r="0.7"/><circle cx="463.7" cy="284.3" r="0.7"/><circle cx="465.5" cy="281.7" r="0.7"/><circle cx="483.6" cy="271.4" r="0.7"/><circle cx="463.4" cy="282.5" r="0.7"/><circle cx="472.7" cy="293.6" r="0.7"/><circle cx="465.6" cy="291.2" r="0.7"/><circle cx="486.9" cy="272.7" r="0.7"/><circle cx="461.3" cy="274.0" r="0.7"/><circle cx="474.4" cy="272.4" r="0.7"/><circle cx="474.1" cy="279.8" r="0.7"/><circle cx="471.5" cy="290.6" r="0.7"/><circle cx="474.0" cy="287.7" r="0.7"/><circle cx="471.0" cy="294.6" r="0.7"/><circle cx="473.8" cy="278.0" r="0.7"/><circle cx="461.4" cy="275.5" r="0.7"/><circle cx="466.5" cy="292.8" r="0.7"/><circle cx="474.7" cy="278.8" r="0.7"/><circle cx="471.3" cy="290.0" r="0.7"/><circle cx="464.1" cy="286.4" r="0.7"/><circle cx="473.6" cy="286.3" r="0.7"/><circle cx="463.2" cy="274.0" r="0.7"/><circle cx="472.9" cy="285.0" r="0.7"/><circle cx="466.2" cy="294.8" r="0.7"/><circle cx="465.0" cy="283.6" r="0.7"/><circle cx="474.9" cy="282.8" r="0.7"/><circle cx="466.3" cy="294.5" r="0.7"/><circle cx="466.9" cy="292.1" r="0.7"/><circle cx="473.1" cy="284.9" r="0.7"/><circle cx="466.2" cy="281.4" r="0.7"/><circle cx="464.2" cy="291.5" r="0.7"/><circle cx="471.0" cy="289.1" r="0.7"/><circle cx="479.4" cy="272.4" r="0.7"/><circle cx="474.0" cy="272.8" r="0.7"/><circle cx="480.3" cy="273.2" r="0.7"/><circle cx="478.9" cy="275.7" r="0.7"/><circle cx="475.0" cy="284.1" r="0.7"/><circle cx="474.6" cy="288.6" r="0.7"/><circle cx="473.2" cy="281.5" r="0.7"/><circle cx="464.0" cy="277.0" r="0.7"/><circle cx="472.4" cy="293.5" r="0.7"/><circle cx="476.1" cy="274.6" r="0.7"/><circle cx="477.6" cy="279.7" r="0.7"/><circle cx="465.1" cy="283.7" r="0.7"/><circle cx="473.5" cy="283.6" r="0.7"/><circle cx="466.7" cy="294.2" r="0.7"/><circle cx="465.7" cy="282.1" r="0.7"/><circle cx="477.6" cy="282.8" r="0.7"/><circle cx="473.1" cy="282.5" r="0.7"/><circle cx="470.9" cy="292.0" r="0.7"/><circle cx="477.0" cy="281.7" r="0.7"/><circle cx="463.9" cy="276.8" r="0.7"/><circle cx="476.0" cy="281.6" r="0.7"/><circle cx="475.3" cy="272.3" r="0.7"/><circle cx="456.7" cy="274.2" r="0.7"/><circle cx="467.2" cy="289.2" r="0.7"/><circle cx="479.7" cy="282.1" r="0.7"/><circle cx="462.4" cy="275.6" r="0.7"/><circle cx="471.8" cy="292.8" r="0.7"/><circle cx="480.2" cy="273.4" r="0.7"/><circle cx="461.6" cy="275.1" r="0.7"/><circle cx="473.0" cy="288.8" r="0.7"/><circle cx="472.2" cy="281.8" r="0.7"/><circle cx="466.9" cy="290.1" r="0.7"/><circle cx="463.6" cy="277.9" r="0.7"/><circle cx="466.9" cy="291.3" r="0.7"/><circle cx="460.2" cy="278.9" r="0.7"/><circle cx="459.6" cy="280.1" r="0.7"/><circle cx="473.0" cy="291.6" r="0.7"/><circle cx="472.9" cy="275.4" r="0.7"/><circle cx="460.0" cy="271.5" r="0.7"/><circle cx="473.1" cy="283.2" r="0.7"/><circle cx="480.9" cy="276.6" r="0.7"/><circle cx="463.4" cy="278.8" r="0.7"/><circle cx="473.8" cy="280.0" r="0.7"/><circle cx="471.1" cy="293.8" r="0.7"/><circle cx="461.3" cy="279.3" r="0.7"/><circle cx="471.5" cy="290.9" r="0.7"/><circle cx="472.5" cy="278.5" r="0.7"/><circle cx="470.4" cy="291.6" r="0.7"/><circle cx="473.7" cy="288.4" r="0.7"/><circle cx="475.0" cy="279.1" r="0.7"/><circle cx="471.9" cy="290.8" r="0.7"/><circle cx="467.1" cy="291.9" r="0.7"/><circle cx="473.9" cy="273.9" r="0.7"/><circle cx="466.8" cy="294.6" r="0.7"/><circle cx="475.3" cy="280.5" r="0.7"/><circle cx="458.5" cy="272.5" r="0.7"/><circle cx="466.5" cy="287.8" r="0.7"/><circle cx="472.0" cy="284.0" r="0.7"/><circle cx="467.8" cy="293.0" r="0.7"/><circle cx="473.9" cy="272.5" r="0.7"/><circle cx="465.1" cy="289.1" r="0.7"/><circle cx="476.5" cy="275.1" r="0.7"/><circle cx="466.6" cy="286.3" r="0.7"/><circle cx="463.9" cy="275.7" r="0.7"/><circle cx="471.1" cy="294.8" r="0.7"/><circle cx="479.0" cy="276.6" r="0.7"/><circle cx="472.2" cy="288.4" r="0.7"/><circle cx="465.5" cy="285.7" r="0.7"/><circle cx="476.4" cy="277.6" r="0.7"/><circle cx="477.1" cy="280.7" r="0.7"/><circle cx="461.5" cy="275.6" r="0.7"/><circle cx="473.7" cy="272.0" r="0.7"/><circle cx="477.0" cy="273.7" r="0.7"/><circle cx="465.2" cy="276.6" r="0.7"/><circle cx="477.1" cy="276.5" r="0.7"/><circle cx="462.5" cy="288.1" r="0.7"/><circle cx="463.6" cy="279.0" r="0.7"/><circle cx="461.4" cy="282.6" r="0.7"/><circle cx="462.6" cy="277.6" r="0.7"/><circle cx="475.3" cy="280.3" r="0.7"/><circle cx="466.5" cy="288.7" r="0.7"/><circle cx="471.1" cy="290.5" r="0.7"/><circle cx="471.9" cy="291.6" r="0.7"/><circle cx="470.6" cy="294.0" r="0.7"/><circle cx="461.0" cy="277.7" r="0.7"/><circle cx="465.9" cy="292.8" r="0.7"/><circle cx="464.3" cy="285.0" r="0.7"/><circle cx="465.0" cy="292.8" r="0.7"/><circle cx="475.4" cy="273.0" r="0.7"/><circle cx="470.7" cy="291.4" r="0.7"/><circle cx="462.4" cy="274.4" r="0.7"/><circle cx="477.8" cy="279.0" r="0.7"/><circle cx="472.9" cy="291.8" r="0.7"/><circle cx="474.0" cy="286.1" r="0.7"/><circle cx="468.0" cy="294.2" r="0.7"/><circle cx="473.9" cy="284.9" r="0.7"/><circle cx="453.8" cy="272.0" r="0.7"/><circle cx="470.1" cy="293.9" r="0.7"/><circle cx="466.0" cy="283.3" r="0.7"/><circle cx="475.4" cy="281.0" r="0.7"/><circle cx="481.0" cy="274.1" r="0.7"/><circle cx="471.1" cy="295.0" r="0.7"/><circle cx="473.0" cy="276.2" r="0.7"/><circle cx="466.3" cy="282.1" r="0.7"/><circle cx="465.2" cy="289.5" r="0.7"/><circle cx="467.0" cy="287.5" r="0.7"/><circle cx="472.0" cy="287.0" r="0.7"/><circle cx="464.8" cy="291.5" r="0.7"/><circle cx="467.1" cy="292.3" r="0.7"/><circle cx="478.6" cy="279.1" r="0.7"/><circle cx="476.9" cy="284.1" r="0.7"/><circle cx="479.8" cy="273.5" r="0.7"/><circle cx="466.8" cy="288.9" r="0.7"/><circle cx="459.8" cy="284.7" r="0.7"/><circle cx="464.1" cy="288.2" r="0.7"/><circle cx="464.1" cy="276.4" r="0.7"/><circle cx="465.9" cy="285.4" r="0.7"/><circle cx="463.5" cy="278.3" r="0.7"/></g>
<g fill="#3a82c8"><circle cx="464.7" cy="264.8" r="0.8"/><circle cx="460.4" cy="261.7" r="0.8"/><circle cx="464.8" cy="264.3" r="0.8"/><circle cx="458.2" cy="268.1" r="0.8"/><circle cx="464.6" cy="267.1" r="0.8"/><circle cx="461.3" cy="251.1" r="0.8"/><circle cx="464.7" cy="269.1" r="0.8"/><circle cx="464.4" cy="266.7" r="0.8"/><circle cx="462.9" cy="269.1" r="0.8"/><circle cx="464.0" cy="268.7" r="0.8"/><circle cx="461.0" cy="269.8" r="0.8"/><circle cx="464.9" cy="265.8" r="0.8"/><circle cx="460.1" cy="256.8" r="0.8"/><circle cx="463.4" cy="268.6" r="0.8"/><circle cx="462.0" cy="269.7" r="0.8"/><circle cx="464.5" cy="265.7" r="0.8"/><circle cx="465.2" cy="265.5" r="0.8"/><circle cx="460.2" cy="258.3" r="0.8"/><circle cx="463.0" cy="260.3" r="0.8"/><circle cx="463.2" cy="269.3" r="0.8"/><circle cx="462.3" cy="265.4" r="0.8"/><circle cx="460.9" cy="245.5" r="0.8"/><circle cx="463.4" cy="261.8" r="0.8"/><circle cx="460.8" cy="265.1" r="0.8"/><circle cx="464.4" cy="257.3" r="0.8"/><circle cx="458.3" cy="255.1" r="0.8"/><circle cx="461.3" cy="250.5" r="0.8"/><circle cx="461.6" cy="260.0" r="0.8"/><circle cx="463.3" cy="266.9" r="0.8"/><circle cx="462.0" cy="269.9" r="0.8"/><circle cx="463.5" cy="254.7" r="0.8"/><circle cx="461.2" cy="260.3" r="0.8"/><circle cx="464.3" cy="265.1" r="0.8"/><circle cx="463.3" cy="260.6" r="0.8"/><circle cx="463.6" cy="258.9" r="0.8"/><circle cx="456.6" cy="268.8" r="0.8"/><circle cx="461.8" cy="254.9" r="0.8"/><circle cx="463.7" cy="263.8" r="0.8"/><circle cx="465.2" cy="262.6" r="0.8"/><circle cx="464.7" cy="254.7" r="0.8"/><circle cx="456.0" cy="263.1" r="0.8"/><circle cx="464.9" cy="261.8" r="0.8"/><circle cx="462.7" cy="257.5" r="0.8"/><circle cx="462.9" cy="260.1" r="0.8"/><circle cx="459.5" cy="263.1" r="0.8"/><circle cx="463.6" cy="239.4" r="0.8"/><circle cx="464.5" cy="258.6" r="0.8"/><circle cx="463.7" cy="255.6" r="0.8"/><circle cx="463.8" cy="270.3" r="0.8"/><circle cx="464.2" cy="265.5" r="0.8"/><circle cx="465.2" cy="265.2" r="0.8"/><circle cx="463.5" cy="258.2" r="0.8"/><circle cx="463.9" cy="267.7" r="0.8"/><circle cx="464.5" cy="256.5" r="0.8"/><circle cx="456.1" cy="263.0" r="0.8"/><circle cx="464.5" cy="253.7" r="0.8"/><circle cx="463.7" cy="268.4" r="0.8"/><circle cx="464.8" cy="255.0" r="0.8"/><circle cx="459.8" cy="260.2" r="0.8"/><circle cx="463.2" cy="262.1" r="0.8"/><circle cx="464.4" cy="235.5" r="0.8"/><circle cx="463.9" cy="260.1" r="0.8"/><circle cx="459.7" cy="252.9" r="0.8"/><circle cx="463.2" cy="267.2" r="0.8"/><circle cx="462.7" cy="269.5" r="0.8"/><circle cx="459.4" cy="266.3" r="0.8"/><circle cx="459.1" cy="267.6" r="0.8"/><circle cx="463.7" cy="267.8" r="0.8"/><circle cx="463.5" cy="268.8" r="0.8"/><circle cx="465.3" cy="257.3" r="0.8"/><circle cx="464.2" cy="268.0" r="0.8"/><circle cx="464.1" cy="264.0" r="0.8"/><circle cx="463.5" cy="260.1" r="0.8"/><circle cx="461.8" cy="266.1" r="0.8"/><circle cx="456.6" cy="250.4" r="0.8"/><circle cx="465.1" cy="252.2" r="0.8"/><circle cx="457.5" cy="254.6" r="0.8"/><circle cx="464.8" cy="252.0" r="0.8"/><circle cx="462.0" cy="270.8" r="0.8"/><circle cx="465.2" cy="238.6" r="0.8"/><circle cx="461.8" cy="267.9" r="0.8"/><circle cx="464.9" cy="269.3" r="0.8"/><circle cx="464.4" cy="255.0" r="0.8"/><circle cx="463.9" cy="269.2" r="0.8"/><circle cx="457.6" cy="254.2" r="0.8"/><circle cx="464.7" cy="247.3" r="0.8"/><circle cx="462.2" cy="254.7" r="0.8"/><circle cx="461.7" cy="247.0" r="0.8"/><circle cx="460.2" cy="251.5" r="0.8"/><circle cx="464.6" cy="258.4" r="0.8"/><circle cx="462.8" cy="256.5" r="0.8"/><circle cx="463.4" cy="248.1" r="0.8"/><circle cx="462.6" cy="267.7" r="0.8"/><circle cx="464.4" cy="269.4" r="0.8"/><circle cx="463.1" cy="270.3" r="0.8"/><circle cx="463.2" cy="269.3" r="0.8"/><circle cx="463.1" cy="263.6" r="0.8"/><circle cx="462.7" cy="249.7" r="0.8"/><circle cx="465.3" cy="251.3" r="0.8"/><circle cx="463.2" cy="262.1" r="0.8"/><circle cx="461.7" cy="251.3" r="0.8"/><circle cx="463.7" cy="265.2" r="0.8"/><circle cx="465.0" cy="260.1" r="0.8"/><circle cx="462.0" cy="270.6" r="0.8"/><circle cx="462.2" cy="258.7" r="0.8"/><circle cx="456.5" cy="266.7" r="0.8"/><circle cx="462.9" cy="263.9" r="0.8"/><circle cx="457.8" cy="270.6" r="0.8"/><circle cx="461.1" cy="260.5" r="0.8"/><circle cx="463.9" cy="249.8" r="0.8"/><circle cx="463.8" cy="264.1" r="0.8"/><circle cx="462.8" cy="255.2" r="0.8"/><circle cx="464.5" cy="264.9" r="0.8"/><circle cx="463.5" cy="262.3" r="0.8"/><circle cx="459.5" cy="267.3" r="0.8"/><circle cx="459.5" cy="265.4" r="0.8"/><circle cx="463.0" cy="267.6" r="0.8"/><circle cx="461.8" cy="254.2" r="0.8"/><circle cx="464.0" cy="266.9" r="0.8"/><circle cx="464.1" cy="261.5" r="0.8"/><circle cx="462.0" cy="254.6" r="0.8"/><circle cx="465.2" cy="257.3" r="0.8"/><circle cx="458.2" cy="262.5" r="0.8"/><circle cx="465.1" cy="267.1" r="0.8"/><circle cx="465.3" cy="268.7" r="0.8"/><circle cx="456.9" cy="260.9" r="0.8"/><circle cx="461.8" cy="254.3" r="0.8"/><circle cx="457.4" cy="260.9" r="0.8"/><circle cx="462.1" cy="260.4" r="0.8"/><circle cx="461.4" cy="261.3" r="0.8"/><circle cx="461.5" cy="268.4" r="0.8"/><circle cx="461.7" cy="264.4" r="0.8"/><circle cx="460.6" cy="269.8" r="0.8"/><circle cx="464.6" cy="270.5" r="0.8"/><circle cx="460.4" cy="244.7" r="0.8"/><circle cx="461.8" cy="266.0" r="0.8"/><circle cx="459.6" cy="254.5" r="0.8"/><circle cx="462.6" cy="267.8" r="0.8"/><circle cx="464.1" cy="265.1" r="0.8"/><circle cx="464.0" cy="264.9" r="0.8"/><circle cx="461.9" cy="242.0" r="0.8"/><circle cx="465.1" cy="262.0" r="0.8"/><circle cx="465.2" cy="269.6" r="0.8"/><circle cx="459.8" cy="261.8" r="0.8"/><circle cx="457.1" cy="264.6" r="0.8"/><circle cx="465.2" cy="265.7" r="0.8"/><circle cx="462.3" cy="241.3" r="0.8"/><circle cx="463.2" cy="265.3" r="0.8"/><circle cx="464.9" cy="259.9" r="0.8"/><circle cx="464.5" cy="269.2" r="0.8"/><circle cx="465.2" cy="270.9" r="0.8"/><circle cx="461.5" cy="269.6" r="0.8"/><circle cx="465.0" cy="249.2" r="0.8"/><circle cx="464.8" cy="270.8" r="0.8"/><circle cx="461.1" cy="268.0" r="0.8"/><circle cx="461.0" cy="268.7" r="0.8"/><circle cx="465.1" cy="255.1" r="0.8"/><circle cx="461.2" cy="250.3" r="0.8"/><circle cx="461.0" cy="270.0" r="0.8"/><circle cx="462.0" cy="257.8" r="0.8"/><circle cx="463.3" cy="242.2" r="0.8"/><circle cx="464.3" cy="235.4" r="0.8"/><circle cx="461.1" cy="270.8" r="0.8"/><circle cx="465.2" cy="259.7" r="0.8"/><circle cx="459.7" cy="270.1" r="0.8"/><circle cx="464.1" cy="257.0" r="0.8"/><circle cx="464.7" cy="249.9" r="0.8"/><circle cx="463.1" cy="270.3" r="0.8"/><circle cx="463.8" cy="261.8" r="0.8"/><circle cx="463.4" cy="258.9" r="0.8"/><circle cx="464.8" cy="253.9" r="0.8"/><circle cx="463.8" cy="259.9" r="0.8"/><circle cx="462.0" cy="265.2" r="0.8"/><circle cx="463.7" cy="254.5" r="0.8"/><circle cx="455.8" cy="254.6" r="0.8"/><circle cx="462.5" cy="267.3" r="0.8"/><circle cx="461.3" cy="252.2" r="0.8"/><circle cx="464.0" cy="261.0" r="0.8"/><circle cx="459.5" cy="261.1" r="0.8"/><circle cx="464.1" cy="265.0" r="0.8"/><circle cx="458.1" cy="265.9" r="0.8"/><circle cx="461.5" cy="261.1" r="0.8"/><circle cx="457.9" cy="253.4" r="0.8"/><circle cx="464.2" cy="270.9" r="0.8"/><circle cx="464.3" cy="265.1" r="0.8"/><circle cx="462.4" cy="252.9" r="0.8"/><circle cx="458.1" cy="270.5" r="0.8"/><circle cx="459.4" cy="253.1" r="0.8"/><circle cx="458.7" cy="261.9" r="0.8"/><circle cx="464.2" cy="250.6" r="0.8"/><circle cx="459.9" cy="258.6" r="0.8"/><circle cx="457.3" cy="266.4" r="0.8"/><circle cx="465.0" cy="262.3" r="0.8"/><circle cx="460.1" cy="268.6" r="0.8"/><circle cx="460.7" cy="242.3" r="0.8"/><circle cx="464.4" cy="261.0" r="0.8"/><circle cx="461.6" cy="264.3" r="0.8"/><circle cx="464.5" cy="267.8" r="0.8"/><circle cx="460.7" cy="254.2" r="0.8"/><circle cx="463.3" cy="270.0" r="0.8"/><circle cx="459.9" cy="255.2" r="0.8"/><circle cx="464.4" cy="261.7" r="0.8"/><circle cx="457.8" cy="247.9" r="0.8"/><circle cx="462.9" cy="264.0" r="0.8"/><circle cx="462.4" cy="268.7" r="0.8"/><circle cx="464.6" cy="268.8" r="0.8"/><circle cx="461.3" cy="266.1" r="0.8"/><circle cx="462.6" cy="265.5" r="0.8"/><circle cx="462.9" cy="269.2" r="0.8"/><circle cx="463.8" cy="269.8" r="0.8"/><circle cx="462.0" cy="254.4" r="0.8"/><circle cx="464.7" cy="261.2" r="0.8"/><circle cx="463.9" cy="263.1" r="0.8"/><circle cx="465.2" cy="270.6" r="0.8"/><circle cx="458.7" cy="263.8" r="0.8"/><circle cx="462.5" cy="267.7" r="0.8"/><circle cx="460.3" cy="265.0" r="0.8"/><circle cx="455.7" cy="255.4" r="0.8"/><circle cx="464.3" cy="270.5" r="0.8"/><circle cx="464.6" cy="268.8" r="0.8"/><circle cx="465.0" cy="270.4" r="0.8"/><circle cx="462.6" cy="249.1" r="0.8"/><circle cx="463.3" cy="239.6" r="0.8"/><circle cx="457.4" cy="270.2" r="0.8"/><circle cx="462.3" cy="265.5" r="0.8"/><circle cx="464.9" cy="236.8" r="0.8"/><circle cx="464.3" cy="262.1" r="0.8"/><circle cx="461.9" cy="237.5" r="0.8"/><circle cx="461.7" cy="265.6" r="0.8"/><circle cx="463.3" cy="269.1" r="0.8"/><circle cx="464.5" cy="270.5" r="0.8"/><circle cx="464.3" cy="266.3" r="0.8"/><circle cx="457.6" cy="245.9" r="0.8"/><circle cx="459.3" cy="270.4" r="0.8"/><circle cx="460.2" cy="257.8" r="0.8"/><circle cx="465.1" cy="269.3" r="0.8"/><circle cx="460.7" cy="241.0" r="0.8"/><circle cx="461.6" cy="267.2" r="0.8"/><circle cx="462.4" cy="255.8" r="0.8"/><circle cx="464.9" cy="266.8" r="0.8"/><circle cx="464.3" cy="269.5" r="0.8"/><circle cx="463.1" cy="269.0" r="0.8"/><circle cx="464.4" cy="269.3" r="0.8"/><circle cx="461.6" cy="270.8" r="0.8"/><circle cx="461.1" cy="268.6" r="0.8"/><circle cx="465.2" cy="242.9" r="0.8"/><circle cx="464.5" cy="241.9" r="0.8"/><circle cx="458.7" cy="247.5" r="0.8"/><circle cx="464.8" cy="264.6" r="0.8"/><circle cx="465.0" cy="242.7" r="0.8"/><circle cx="459.2" cy="260.4" r="0.8"/><circle cx="463.3" cy="266.5" r="0.8"/><circle cx="459.6" cy="264.0" r="0.8"/><circle cx="462.0" cy="269.3" r="0.8"/><circle cx="464.5" cy="270.3" r="0.8"/><circle cx="461.2" cy="262.3" r="0.8"/><circle cx="464.8" cy="249.1" r="0.8"/><circle cx="464.3" cy="265.3" r="0.8"/><circle cx="464.7" cy="267.6" r="0.8"/><circle cx="459.3" cy="266.6" r="0.8"/><circle cx="454.0" cy="225.9" r="0.8"/><circle cx="453.0" cy="236.8" r="0.8"/><circle cx="454.6" cy="262.7" r="0.8"/><circle cx="439.9" cy="231.6" r="0.8"/><circle cx="447.7" cy="266.4" r="0.8"/><circle cx="455.6" cy="260.3" r="0.8"/><circle cx="454.4" cy="253.2" r="0.8"/><circle cx="452.7" cy="266.5" r="0.8"/><circle cx="453.4" cy="236.4" r="0.8"/><circle cx="454.6" cy="226.3" r="0.8"/><circle cx="450.4" cy="232.4" r="0.8"/><circle cx="454.0" cy="246.6" r="0.8"/><circle cx="448.3" cy="250.9" r="0.8"/><circle cx="455.9" cy="226.5" r="0.8"/><circle cx="446.1" cy="254.1" r="0.8"/><circle cx="455.6" cy="225.5" r="0.8"/><circle cx="449.8" cy="266.1" r="0.8"/><circle cx="454.1" cy="262.9" r="0.8"/><circle cx="445.6" cy="257.9" r="0.8"/><circle cx="439.8" cy="230.8" r="0.8"/><circle cx="455.3" cy="233.5" r="0.8"/><circle cx="452.6" cy="230.9" r="0.8"/><circle cx="444.3" cy="254.3" r="0.8"/><circle cx="455.3" cy="220.9" r="0.8"/><circle cx="452.3" cy="221.7" r="0.8"/><circle cx="448.2" cy="231.3" r="0.8"/><circle cx="444.3" cy="236.9" r="0.8"/><circle cx="451.9" cy="265.7" r="0.8"/><circle cx="448.0" cy="246.9" r="0.8"/><circle cx="451.2" cy="221.8" r="0.8"/><circle cx="455.0" cy="230.2" r="0.8"/><circle cx="455.6" cy="233.1" r="0.8"/><circle cx="445.1" cy="255.3" r="0.8"/><circle cx="450.7" cy="219.7" r="0.8"/><circle cx="449.2" cy="241.1" r="0.8"/><circle cx="454.0" cy="265.5" r="0.8"/><circle cx="453.0" cy="247.8" r="0.8"/><circle cx="454.4" cy="252.8" r="0.8"/><circle cx="454.9" cy="232.9" r="0.8"/><circle cx="448.6" cy="256.5" r="0.8"/><circle cx="454.1" cy="242.5" r="0.8"/><circle cx="452.0" cy="221.4" r="0.8"/><circle cx="453.1" cy="253.4" r="0.8"/><circle cx="441.7" cy="261.3" r="0.8"/><circle cx="450.5" cy="251.7" r="0.8"/><circle cx="444.8" cy="240.9" r="0.8"/><circle cx="446.5" cy="259.9" r="0.8"/><circle cx="448.7" cy="238.4" r="0.8"/><circle cx="451.8" cy="229.9" r="0.8"/><circle cx="444.2" cy="262.7" r="0.8"/><circle cx="432.7" cy="225.4" r="0.8"/><circle cx="445.4" cy="213.8" r="0.8"/><circle cx="456.8" cy="216.0" r="0.8"/><circle cx="450.6" cy="220.4" r="0.8"/><circle cx="432.3" cy="253.7" r="0.8"/><circle cx="439.3" cy="241.8" r="0.8"/><circle cx="445.0" cy="233.0" r="0.8"/><circle cx="450.2" cy="225.4" r="0.8"/><circle cx="454.1" cy="219.8" r="0.8"/><circle cx="457.6" cy="224.5" r="0.8"/><circle cx="458.1" cy="229.2" r="0.8"/></g>
<g fill="#c21c3c"><circle cx="473.7" cy="264.6" r="0.8"/><circle cx="474.3" cy="249.0" r="0.8"/><circle cx="473.3" cy="249.7" r="0.8"/><circle cx="476.5" cy="268.7" r="0.8"/><circle cx="475.1" cy="267.8" r="0.8"/><circle cx="474.1" cy="268.8" r="0.8"/><circle cx="481.1" cy="270.0" r="0.8"/><circle cx="474.2" cy="249.6" r="0.8"/><circle cx="473.3" cy="258.7" r="0.8"/><circle cx="473.2" cy="255.5" r="0.8"/><circle cx="474.4" cy="269.5" r="0.8"/><circle cx="473.2" cy="254.1" r="0.8"/><circle cx="475.4" cy="269.0" r="0.8"/><circle cx="474.9" cy="248.1" r="0.8"/><circle cx="473.9" cy="263.0" r="0.8"/><circle cx="473.6" cy="269.1" r="0.8"/><circle cx="477.7" cy="259.2" r="0.8"/><circle cx="473.8" cy="270.2" r="0.8"/><circle cx="473.4" cy="262.1" r="0.8"/><circle cx="475.2" cy="267.9" r="0.8"/><circle cx="473.9" cy="262.0" r="0.8"/><circle cx="476.9" cy="255.2" r="0.8"/><circle cx="475.8" cy="268.8" r="0.8"/><circle cx="473.4" cy="258.5" r="0.8"/><circle cx="474.8" cy="258.9" r="0.8"/><circle cx="473.3" cy="255.3" r="0.8"/><circle cx="474.4" cy="253.6" r="0.8"/><circle cx="479.3" cy="264.6" r="0.8"/><circle cx="473.2" cy="248.2" r="0.8"/><circle cx="475.1" cy="251.6" r="0.8"/><circle cx="474.1" cy="269.0" r="0.8"/><circle cx="478.6" cy="266.6" r="0.8"/><circle cx="473.7" cy="266.6" r="0.8"/><circle cx="475.9" cy="270.9" r="0.8"/><circle cx="475.4" cy="265.4" r="0.8"/><circle cx="475.4" cy="269.7" r="0.8"/><circle cx="477.0" cy="255.0" r="0.8"/><circle cx="479.3" cy="267.3" r="0.8"/><circle cx="477.0" cy="266.4" r="0.8"/><circle cx="477.4" cy="270.4" r="0.8"/><circle cx="479.5" cy="241.9" r="0.8"/><circle cx="475.2" cy="264.2" r="0.8"/><circle cx="475.5" cy="263.7" r="0.8"/><circle cx="473.2" cy="238.7" r="0.8"/><circle cx="473.9" cy="269.1" r="0.8"/><circle cx="473.5" cy="268.2" r="0.8"/><circle cx="478.3" cy="270.7" r="0.8"/><circle cx="473.5" cy="259.6" r="0.8"/><circle cx="473.8" cy="270.8" r="0.8"/><circle cx="475.9" cy="262.9" r="0.8"/><circle cx="475.4" cy="259.5" r="0.8"/><circle cx="473.5" cy="251.8" r="0.8"/><circle cx="477.0" cy="270.5" r="0.8"/><circle cx="473.6" cy="264.5" r="0.8"/><circle cx="475.3" cy="267.9" r="0.8"/><circle cx="473.5" cy="266.1" r="0.8"/><circle cx="473.6" cy="262.5" r="0.8"/><circle cx="479.2" cy="269.5" r="0.8"/><circle cx="475.8" cy="258.0" r="0.8"/><circle cx="473.7" cy="254.5" r="0.8"/><circle cx="481.6" cy="266.3" r="0.8"/><circle cx="474.8" cy="253.7" r="0.8"/><circle cx="475.4" cy="266.2" r="0.8"/><circle cx="481.8" cy="256.8" r="0.8"/><circle cx="474.4" cy="268.4" r="0.8"/><circle cx="474.4" cy="265.6" r="0.8"/><circle cx="478.1" cy="248.0" r="0.8"/><circle cx="478.3" cy="253.2" r="0.8"/><circle cx="473.3" cy="264.1" r="0.8"/><circle cx="482.8" cy="245.3" r="0.8"/><circle cx="474.0" cy="265.8" r="0.8"/><circle cx="476.2" cy="266.7" r="0.8"/><circle cx="475.5" cy="270.3" r="0.8"/><circle cx="474.9" cy="264.3" r="0.8"/><circle cx="473.2" cy="269.5" r="0.8"/><circle cx="477.7" cy="244.9" r="0.8"/><circle cx="476.2" cy="255.3" r="0.8"/><circle cx="479.8" cy="250.6" r="0.8"/><circle cx="473.3" cy="261.3" r="0.8"/><circle cx="474.1" cy="260.3" r="0.8"/><circle cx="474.1" cy="263.6" r="0.8"/><circle cx="481.1" cy="261.8" r="0.8"/><circle cx="474.0" cy="264.0" r="0.8"/><circle cx="474.9" cy="242.6" r="0.8"/><circle cx="474.2" cy="267.5" r="0.8"/><circle cx="476.3" cy="269.7" r="0.8"/><circle cx="475.9" cy="241.5" r="0.8"/><circle cx="475.4" cy="268.0" r="0.8"/><circle cx="475.1" cy="263.8" r="0.8"/><circle cx="473.6" cy="269.7" r="0.8"/><circle cx="473.6" cy="267.7" r="0.8"/><circle cx="474.7" cy="267.7" r="0.8"/><circle cx="474.0" cy="270.1" r="0.8"/><circle cx="475.6" cy="253.7" r="0.8"/><circle cx="476.0" cy="263.0" r="0.8"/><circle cx="476.4" cy="268.8" r="0.8"/><circle cx="476.9" cy="265.1" r="0.8"/><circle cx="475.6" cy="262.0" r="0.8"/><circle cx="475.1" cy="267.4" r="0.8"/><circle cx="474.0" cy="268.6" r="0.8"/><circle cx="475.3" cy="266.4" r="0.8"/><circle cx="475.8" cy="270.8" r="0.8"/><circle cx="474.5" cy="252.3" r="0.8"/><circle cx="474.0" cy="263.3" r="0.8"/><circle cx="475.2" cy="267.8" r="0.8"/><circle cx="474.2" cy="257.0" r="0.8"/><circle cx="473.7" cy="270.3" r="0.8"/><circle cx="479.4" cy="265.5" r="0.8"/><circle cx="473.3" cy="266.3" r="0.8"/><circle cx="474.9" cy="258.4" r="0.8"/><circle cx="473.5" cy="268.5" r="0.8"/><circle cx="482.9" cy="258.3" r="0.8"/><circle cx="473.7" cy="267.1" r="0.8"/><circle cx="474.5" cy="260.4" r="0.8"/><circle cx="476.1" cy="253.1" r="0.8"/><circle cx="478.4" cy="264.1" r="0.8"/><circle cx="477.3" cy="258.1" r="0.8"/><circle cx="477.5" cy="264.9" r="0.8"/><circle cx="477.9" cy="259.3" r="0.8"/><circle cx="480.7" cy="269.7" r="0.8"/><circle cx="479.4" cy="270.9" r="0.8"/><circle cx="477.6" cy="262.6" r="0.8"/><circle cx="475.3" cy="240.0" r="0.8"/><circle cx="475.7" cy="265.9" r="0.8"/><circle cx="477.8" cy="251.5" r="0.8"/><circle cx="476.0" cy="266.5" r="0.8"/><circle cx="475.0" cy="265.2" r="0.8"/><circle cx="477.1" cy="267.7" r="0.8"/><circle cx="474.7" cy="263.3" r="0.8"/><circle cx="474.6" cy="267.3" r="0.8"/><circle cx="477.9" cy="253.1" r="0.8"/><circle cx="475.3" cy="265.4" r="0.8"/><circle cx="473.8" cy="267.5" r="0.8"/><circle cx="473.6" cy="262.9" r="0.8"/><circle cx="475.8" cy="270.1" r="0.8"/><circle cx="480.9" cy="267.3" r="0.8"/><circle cx="478.8" cy="253.8" r="0.8"/><circle cx="482.9" cy="268.8" r="0.8"/><circle cx="474.9" cy="248.2" r="0.8"/><circle cx="473.2" cy="270.5" r="0.8"/><circle cx="475.7" cy="264.5" r="0.8"/><circle cx="480.9" cy="257.0" r="0.8"/><circle cx="475.4" cy="264.1" r="0.8"/><circle cx="476.7" cy="266.3" r="0.8"/><circle cx="474.5" cy="262.4" r="0.8"/><circle cx="474.5" cy="243.1" r="0.8"/><circle cx="476.6" cy="263.9" r="0.8"/><circle cx="473.5" cy="266.5" r="0.8"/><circle cx="474.7" cy="263.2" r="0.8"/><circle cx="475.8" cy="251.0" r="0.8"/><circle cx="475.2" cy="265.5" r="0.8"/><circle cx="474.4" cy="263.8" r="0.8"/><circle cx="478.3" cy="269.2" r="0.8"/><circle cx="478.5" cy="264.2" r="0.8"/><circle cx="473.5" cy="249.8" r="0.8"/><circle cx="476.7" cy="254.8" r="0.8"/><circle cx="479.9" cy="265.8" r="0.8"/><circle cx="473.7" cy="267.7" r="0.8"/><circle cx="475.3" cy="264.3" r="0.8"/><circle cx="473.8" cy="269.1" r="0.8"/><circle cx="476.2" cy="262.2" r="0.8"/><circle cx="476.2" cy="270.5" r="0.8"/><circle cx="474.8" cy="256.4" r="0.8"/><circle cx="474.3" cy="259.9" r="0.8"/><circle cx="473.2" cy="267.5" r="0.8"/><circle cx="478.8" cy="262.6" r="0.8"/><circle cx="476.5" cy="268.9" r="0.8"/><circle cx="475.3" cy="263.4" r="0.8"/><circle cx="474.1" cy="261.1" r="0.8"/><circle cx="475.8" cy="266.0" r="0.8"/><circle cx="473.5" cy="269.3" r="0.8"/><circle cx="477.5" cy="269.9" r="0.8"/><circle cx="473.5" cy="269.2" r="0.8"/><circle cx="475.4" cy="254.6" r="0.8"/><circle cx="476.1" cy="255.5" r="0.8"/><circle cx="473.3" cy="270.8" r="0.8"/><circle cx="477.7" cy="267.3" r="0.8"/><circle cx="477.0" cy="266.8" r="0.8"/><circle cx="473.7" cy="268.0" r="0.8"/><circle cx="473.5" cy="248.9" r="0.8"/><circle cx="475.8" cy="266.9" r="0.8"/><circle cx="475.0" cy="266.4" r="0.8"/><circle cx="473.3" cy="250.1" r="0.8"/><circle cx="475.8" cy="240.7" r="0.8"/><circle cx="474.9" cy="261.8" r="0.8"/><circle cx="474.0" cy="270.5" r="0.8"/><circle cx="481.3" cy="252.8" r="0.8"/><circle cx="474.3" cy="249.4" r="0.8"/><circle cx="478.3" cy="267.5" r="0.8"/><circle cx="476.0" cy="240.6" r="0.8"/><circle cx="475.2" cy="242.8" r="0.8"/><circle cx="474.0" cy="266.3" r="0.8"/><circle cx="477.0" cy="268.6" r="0.8"/><circle cx="474.3" cy="251.3" r="0.8"/><circle cx="475.2" cy="256.1" r="0.8"/><circle cx="474.0" cy="269.2" r="0.8"/><circle cx="474.5" cy="269.0" r="0.8"/><circle cx="474.2" cy="263.2" r="0.8"/><circle cx="473.5" cy="263.8" r="0.8"/><circle cx="474.6" cy="266.1" r="0.8"/><circle cx="473.4" cy="269.7" r="0.8"/><circle cx="478.5" cy="266.9" r="0.8"/><circle cx="474.0" cy="269.0" r="0.8"/><circle cx="474.2" cy="268.4" r="0.8"/><circle cx="473.3" cy="260.7" r="0.8"/><circle cx="474.4" cy="269.4" r="0.8"/><circle cx="476.9" cy="270.0" r="0.8"/><circle cx="474.1" cy="254.0" r="0.8"/><circle cx="473.6" cy="265.4" r="0.8"/><circle cx="478.7" cy="255.6" r="0.8"/><circle cx="473.7" cy="266.9" r="0.8"/><circle cx="477.1" cy="266.5" r="0.8"/><circle cx="482.9" cy="268.8" r="0.8"/><circle cx="482.4" cy="264.3" r="0.8"/><circle cx="473.9" cy="265.3" r="0.8"/><circle cx="473.6" cy="259.4" r="0.8"/><circle cx="474.1" cy="249.3" r="0.8"/><circle cx="475.9" cy="266.6" r="0.8"/><circle cx="474.0" cy="262.1" r="0.8"/><circle cx="473.9" cy="251.6" r="0.8"/><circle cx="473.6" cy="264.2" r="0.8"/><circle cx="475.5" cy="268.0" r="0.8"/><circle cx="477.7" cy="266.4" r="0.8"/><circle cx="476.4" cy="263.1" r="0.8"/><circle cx="474.3" cy="266.3" r="0.8"/><circle cx="473.4" cy="269.1" r="0.8"/><circle cx="479.0" cy="267.3" r="0.8"/><circle cx="476.5" cy="269.9" r="0.8"/><circle cx="475.7" cy="266.7" r="0.8"/><circle cx="475.3" cy="267.6" r="0.8"/><circle cx="473.4" cy="267.4" r="0.8"/><circle cx="473.9" cy="269.7" r="0.8"/><circle cx="477.0" cy="267.8" r="0.8"/><circle cx="474.7" cy="248.4" r="0.8"/><circle cx="477.7" cy="250.8" r="0.8"/><circle cx="479.2" cy="269.6" r="0.8"/><circle cx="474.1" cy="270.7" r="0.8"/><circle cx="476.6" cy="260.7" r="0.8"/><circle cx="474.5" cy="265.9" r="0.8"/><circle cx="476.4" cy="259.6" r="0.8"/><circle cx="484.9" cy="259.8" r="0.8"/><circle cx="483.8" cy="268.3" r="0.8"/><circle cx="484.8" cy="264.4" r="0.8"/><circle cx="491.7" cy="257.3" r="0.8"/><circle cx="482.9" cy="260.8" r="0.8"/><circle cx="487.6" cy="259.8" r="0.8"/><circle cx="483.4" cy="268.0" r="0.8"/><circle cx="482.1" cy="242.0" r="0.8"/><circle cx="492.6" cy="267.6" r="0.8"/><circle cx="492.0" cy="242.3" r="0.8"/><circle cx="489.2" cy="266.9" r="0.8"/><circle cx="487.9" cy="257.7" r="0.8"/><circle cx="483.6" cy="254.7" r="0.8"/><circle cx="482.1" cy="244.0" r="0.8"/><circle cx="490.6" cy="252.3" r="0.8"/><circle cx="496.4" cy="251.6" r="0.8"/><circle cx="484.4" cy="263.1" r="0.8"/><circle cx="483.1" cy="269.2" r="0.8"/><circle cx="493.1" cy="246.3" r="0.8"/><circle cx="485.0" cy="264.8" r="0.8"/><circle cx="490.5" cy="246.1" r="0.8"/><circle cx="496.3" cy="265.2" r="0.8"/><circle cx="493.3" cy="246.5" r="0.8"/><circle cx="492.5" cy="260.8" r="0.8"/><circle cx="483.6" cy="246.7" r="0.8"/><circle cx="485.3" cy="259.6" r="0.8"/><circle cx="488.9" cy="259.6" r="0.8"/><circle cx="494.3" cy="263.2" r="0.8"/><circle cx="497.0" cy="237.4" r="0.8"/><circle cx="495.7" cy="251.2" r="0.8"/><circle cx="497.8" cy="265.9" r="0.8"/><circle cx="493.5" cy="264.0" r="0.8"/><circle cx="478.2" cy="228.6" r="0.8"/><circle cx="491.7" cy="264.4" r="0.8"/><circle cx="477.3" cy="234.8" r="0.8"/><circle cx="479.5" cy="238.3" r="0.8"/></g>
<rect x="549.6" y="212" width="95" height="84.6" rx="8.5" fill="#ffffff" stroke="#215a96" stroke-width="1.9"/>
<path d="M557.7 269.5 H636.4 V276.5 Q636.4 278.8 634 278.8 H560 Q557.7 278.8 557.7 276.5 Z" fill="#f9e3ea"/>
<path d="M557.7 269.7 V233.5 Q557.7 231.2 560 231.2 H634 Q636.4 231.2 636.4 233.5 V269.7 Z" fill="#f0c9cb"/>
<line x1="573.5" y1="232" x2="573.5" y2="269" stroke="#e3b0b3" stroke-width="0.6"/>
<line x1="589.5" y1="232" x2="589.5" y2="269" stroke="#e3b0b3" stroke-width="0.6"/>
<line x1="605" y1="232" x2="605" y2="269" stroke="#e3b0b3" stroke-width="0.6"/>
<line x1="620.5" y1="232" x2="620.5" y2="269" stroke="#e3b0b3" stroke-width="0.6"/>
<circle cx="565.6" cy="261.2" r="3" fill="#d49696"/>
<circle cx="581.6" cy="261.2" r="3" fill="#d49696"/>
<circle cx="597" cy="261.2" r="3" fill="#d49696"/>
<circle cx="612.5" cy="261.2" r="3" fill="#d49696"/>
<circle cx="627.9" cy="261.2" r="3" fill="#d49696"/>
<g transform="translate(572.2 252) scale(1.0 1.0)"><polygon points="-3.8,-21.2 -3.8,-28.6 5,-33.4 5,-21.2" fill="#5d72c4" opacity="0.92"/><path d="M-1.2 -21.5 V-30 M1.4 -21.5 V-31.5 M3.4 -21.5 V-32.5" stroke="#ffffff" stroke-opacity="0.22" stroke-width="0.6"/><path d="M-5.9 -20.8 H5.9 V-7 C5.9 -3 3 0 0 0 C-3 0 -5.9 -3 -5.9 -7 Z" fill="#5d72c4"/><circle cx="1" cy="-9.2" r="3.1" fill="#1f3a82"/><path d="M-4.2 -21.6 H5" stroke="#ffffff" stroke-opacity="0.75" stroke-width="0.55" stroke-dasharray="0.6 0.5"/></g>
<g transform="translate(588.5 251.2) scale(0.95 0.97)"><polygon points="-3,-21.2 -3,-27.5 4.6,-34.5 4.6,-21.2" fill="#5d72c4" opacity="0.92"/><path d="M-0.5 -21.5 V-29.8 M1.9 -21.5 V-32 M-1.8 -21.5 V-28.4" stroke="#ffffff" stroke-opacity="0.22" stroke-width="0.6"/><circle cx="0" cy="-7.5" r="7.6" fill="#5d72c4"/><path d="M-4.4 -21 H4.9 V-17 C4.9 -15 4.4 -13.5 6 -11 L-5.6 -11 C-4.1 -13.5 -4.4 -15 -4.4 -17 Z" fill="#5d72c4"/><circle cx="-0.6" cy="-7.6" r="3.5" fill="#1f3a82"/><path d="M-3.6 -21.6 H4.6" stroke="#ffffff" stroke-opacity="0.75" stroke-width="0.55" stroke-dasharray="0.6 0.5"/></g>
<g transform="translate(605 252.3) scale(1.0 1.0)"><polygon points="-3.8,-21.2 -3.8,-28.6 5,-33.4 5,-21.2" fill="#5d72c4" opacity="0.92"/><path d="M-1.2 -21.5 V-30 M1.4 -21.5 V-31.5 M3.4 -21.5 V-32.5" stroke="#ffffff" stroke-opacity="0.22" stroke-width="0.6"/><path d="M-5.9 -20.8 H5.9 V-7 C5.9 -3 3 0 0 0 C-3 0 -5.9 -3 -5.9 -7 Z" fill="#5d72c4"/><circle cx="1" cy="-9.2" r="3.1" fill="#1f3a82"/><path d="M-4.2 -21.6 H5" stroke="#ffffff" stroke-opacity="0.75" stroke-width="0.55" stroke-dasharray="0.6 0.5"/></g>
<g transform="translate(620.8 252.3) scale(1.0 1.0)"><polygon points="-3.8,-21.2 -3.8,-28.6 5,-33.4 5,-21.2" fill="#5d72c4" opacity="0.92"/><path d="M-1.2 -21.5 V-30 M1.4 -21.5 V-31.5 M3.4 -21.5 V-32.5" stroke="#ffffff" stroke-opacity="0.22" stroke-width="0.6"/><path d="M-5.9 -20.8 H5.9 V-7 C5.9 -3 3 0 0 0 C-3 0 -5.9 -3 -5.9 -7 Z" fill="#5d72c4"/><circle cx="1" cy="-9.2" r="3.1" fill="#1f3a82"/><path d="M-4.2 -21.6 H5" stroke="#ffffff" stroke-opacity="0.75" stroke-width="0.55" stroke-dasharray="0.6 0.5"/></g>
<g fill="#4a2ae0"><circle cx="579.7" cy="257.8" r="0.8"/><circle cx="577.8" cy="257.1" r="0.8"/><circle cx="579.0" cy="253.8" r="0.8"/><circle cx="582.9" cy="254.9" r="0.8"/><circle cx="579.4" cy="256.4" r="0.8"/><circle cx="581.5" cy="254.4" r="0.8"/><circle cx="580.6" cy="252.0" r="0.8"/><circle cx="578.8" cy="253.4" r="0.8"/><circle cx="577.1" cy="250.6" r="0.8"/><circle cx="576.6" cy="253.9" r="0.8"/><circle cx="579.2" cy="253.7" r="0.8"/><circle cx="579.6" cy="251.0" r="0.8"/><circle cx="579.4" cy="255.1" r="0.8"/><circle cx="580.9" cy="252.3" r="0.8"/><circle cx="578.8" cy="249.3" r="0.8"/><circle cx="578.6" cy="248.8" r="0.8"/><circle cx="576.9" cy="257.4" r="0.8"/><circle cx="575.5" cy="256.6" r="0.8"/><circle cx="580.1" cy="253.7" r="0.8"/><circle cx="580.3" cy="255.9" r="0.8"/><circle cx="581.4" cy="253.9" r="0.8"/><circle cx="578.4" cy="252.9" r="0.8"/><circle cx="577.7" cy="254.4" r="0.8"/><circle cx="578.1" cy="257.3" r="0.8"/><circle cx="576.1" cy="251.7" r="0.8"/><circle cx="577.8" cy="249.1" r="0.8"/></g>
<g fill="#4a2ae0"><circle cx="579.4" cy="259.6" r="0.75"/><circle cx="577.2" cy="262.7" r="0.75"/><circle cx="579.2" cy="260.3" r="0.75"/><circle cx="578.6" cy="262.3" r="0.75"/><circle cx="577.3" cy="262.4" r="0.75"/><circle cx="578.1" cy="261.7" r="0.75"/></g>
<g fill="#e020b0"><circle cx="629.6" cy="258.0" r="0.85"/><circle cx="634.6" cy="250.3" r="0.85"/><circle cx="633.8" cy="259.7" r="0.85"/><circle cx="628.5" cy="257.9" r="0.85"/><circle cx="628.6" cy="261.6" r="0.85"/><circle cx="630.3" cy="256.4" r="0.85"/><circle cx="629.2" cy="256.4" r="0.85"/><circle cx="629.3" cy="254.5" r="0.85"/><circle cx="635.2" cy="251.6" r="0.85"/><circle cx="620.4" cy="256.7" r="0.85"/><circle cx="629.4" cy="258.0" r="0.85"/><circle cx="629.3" cy="256.6" r="0.85"/><circle cx="630.7" cy="259.7" r="0.85"/><circle cx="628.6" cy="256.0" r="0.85"/><circle cx="634.8" cy="258.5" r="0.85"/><circle cx="627.2" cy="263.5" r="0.85"/><circle cx="631.8" cy="255.4" r="0.85"/><circle cx="626.7" cy="257.8" r="0.85"/><circle cx="627.6" cy="254.0" r="0.85"/><circle cx="626.4" cy="255.6" r="0.85"/><circle cx="632.7" cy="255.8" r="0.85"/><circle cx="626.0" cy="258.9" r="0.85"/><circle cx="630.0" cy="259.4" r="0.85"/><circle cx="632.9" cy="256.5" r="0.85"/><circle cx="629.4" cy="256.9" r="0.85"/><circle cx="626.9" cy="258.9" r="0.85"/><circle cx="633.4" cy="257.5" r="0.85"/><circle cx="629.2" cy="256.3" r="0.85"/><circle cx="627.8" cy="254.7" r="0.85"/><circle cx="628.8" cy="254.6" r="0.85"/><circle cx="628.7" cy="252.6" r="0.85"/><circle cx="630.7" cy="257.1" r="0.85"/><circle cx="626.8" cy="250.6" r="0.85"/><circle cx="629.8" cy="260.1" r="0.85"/><circle cx="627.9" cy="255.6" r="0.85"/><circle cx="628.3" cy="258.8" r="0.85"/></g>
<g fill="#e020b0"><circle cx="627.6" cy="245.8" r="0.7"/><circle cx="629.2" cy="245.7" r="0.7"/><circle cx="630.1" cy="243.6" r="0.7"/><circle cx="626.2" cy="242.8" r="0.7"/><circle cx="629.3" cy="245.2" r="0.7"/><circle cx="630.6" cy="242.7" r="0.7"/></g>
<g fill="#f07a20"><circle cx="571.1" cy="233.5" r="0.9"/><circle cx="570.3" cy="232.1" r="0.9"/><circle cx="569.9" cy="233.3" r="0.9"/><circle cx="571.3" cy="231.6" r="0.9"/><circle cx="571.1" cy="232.0" r="0.9"/></g>
<g fill="#f07a20"><circle cx="585.3" cy="237.2" r="0.9"/><circle cx="588.8" cy="234.5" r="0.9"/><circle cx="587.2" cy="236.2" r="0.9"/><circle cx="585.6" cy="235.3" r="0.9"/><circle cx="588.5" cy="233.0" r="0.9"/><circle cx="587.7" cy="236.5" r="0.9"/><circle cx="588.1" cy="233.6" r="0.9"/></g>
<g fill="#f07a20"><circle cx="585.6" cy="240.8" r="0.9"/><circle cx="585.9" cy="242.0" r="0.9"/><circle cx="585.5" cy="240.9" r="0.9"/></g>
<g fill="#f07a20"><circle cx="619.5" cy="236.9" r="0.9"/><circle cx="619.1" cy="236.1" r="0.9"/><circle cx="620.8" cy="234.4" r="0.9"/><circle cx="623.1" cy="235.2" r="0.9"/><circle cx="622.8" cy="230.6" r="0.9"/><circle cx="617.5" cy="237.2" r="0.9"/></g>
<g fill="#e020b0"><circle cx="568.4" cy="250.3" r="0.75"/><circle cx="567.7" cy="249.4" r="0.75"/><circle cx="567.2" cy="249.9" r="0.75"/></g>
<g fill="#e020b0"><circle cx="600.3" cy="263.2" r="0.75"/><circle cx="600.6" cy="262.8" r="0.75"/><circle cx="599.8" cy="262.2" r="0.75"/></g>
<g fill="#e020b0"><circle cx="580.6" cy="234.4" r="0.7"/><circle cx="581.8" cy="234.1" r="0.7"/><circle cx="582.4" cy="234.0" r="0.7"/></g>
<g fill="#f0c020"><circle cx="625.1" cy="245.0" r="0.6"/><circle cx="625.5" cy="245.6" r="0.6"/><circle cx="624.7" cy="245.9" r="0.6"/></g>
<text x="558.6" y="314.6" font-size="10.8" font-weight="normal" fill="#262626" text-anchor="start" textLength="77" lengthAdjust="spacingAndGlyphs" >1&#8226; = 1 transcript</text>
<rect x="315.6" y="79.4" width="80" height="40" rx="11" fill="#e9eff9" stroke="#215a96" stroke-width="1.6"/>
<rect x="321.1" y="89" width="67.2" height="20.5" fill="#f0c9cb"/>
<rect x="321.1" y="109.5" width="67.2" height="5.2" fill="#f8e0e8"/>
<line x1="329.8" y1="97" x2="329.8" y2="109.5" stroke="#e4b1b4" stroke-width="0.5"/>
<line x1="338.1" y1="97" x2="338.1" y2="109.5" stroke="#e4b1b4" stroke-width="0.5"/>
<line x1="346.5" y1="97" x2="346.5" y2="109.5" stroke="#e4b1b4" stroke-width="0.5"/>
<line x1="355" y1="97" x2="355" y2="109.5" stroke="#e4b1b4" stroke-width="0.5"/>
<line x1="363.2" y1="97" x2="363.2" y2="109.5" stroke="#e4b1b4" stroke-width="0.5"/>
<line x1="371.6" y1="97" x2="371.6" y2="109.5" stroke="#e4b1b4" stroke-width="0.5"/>
<line x1="380" y1="97" x2="380" y2="109.5" stroke="#e4b1b4" stroke-width="0.5"/>
<circle cx="325.5" cy="105.4" r="1.4" fill="#d89a9a"/>
<circle cx="333.9" cy="105.4" r="1.4" fill="#d89a9a"/>
<circle cx="342.2" cy="105.4" r="1.4" fill="#d89a9a"/>
<circle cx="350.9" cy="105.4" r="1.4" fill="#d89a9a"/>
<circle cx="359.1" cy="105.4" r="1.4" fill="#d89a9a"/>
<circle cx="367.6" cy="105.4" r="1.4" fill="#d89a9a"/>
<circle cx="375.7" cy="105.4" r="1.4" fill="#d89a9a"/>
<circle cx="384.3" cy="105.4" r="1.4" fill="#d89a9a"/>
<g transform="translate(327.8 100.3) scale(0.6 0.53)"><polygon points="-3,-21.2 -3,-27.5 4.6,-34.5 4.6,-21.2" fill="#5068c2" opacity="0.92"/><path d="M-0.5 -21.5 V-29.8 M1.9 -21.5 V-32 M-1.8 -21.5 V-28.4" stroke="#ffffff" stroke-opacity="0.22" stroke-width="0.6"/><circle cx="0" cy="-7.5" r="7.6" fill="#5068c2"/><path d="M-4.4 -21 H4.9 V-17 C4.9 -15 4.4 -13.5 6 -11 L-5.6 -11 C-4.1 -13.5 -4.4 -15 -4.4 -17 Z" fill="#5068c2"/><circle cx="-0.6" cy="-7.6" r="3.5" fill="#1e3a88"/><path d="M-3.6 -21.6 H4.6" stroke="#ffffff" stroke-opacity="0.75" stroke-width="0.55" stroke-dasharray="0.6 0.5"/></g>
<g transform="translate(337.2 100.3) scale(0.6 0.53)"><polygon points="-3.8,-21.2 -3.8,-28.6 5,-33.4 5,-21.2" fill="#5068c2" opacity="0.92"/><path d="M-1.2 -21.5 V-30 M1.4 -21.5 V-31.5 M3.4 -21.5 V-32.5" stroke="#ffffff" stroke-opacity="0.22" stroke-width="0.6"/><path d="M-5.9 -20.8 H5.9 V-7 C5.9 -3 3 0 0 0 C-3 0 -5.9 -3 -5.9 -7 Z" fill="#5068c2"/><circle cx="1" cy="-9.2" r="3.1" fill="#1e3a88"/><path d="M-4.2 -21.6 H5" stroke="#ffffff" stroke-opacity="0.75" stroke-width="0.55" stroke-dasharray="0.6 0.5"/></g>
<g transform="translate(346 100.3) scale(0.6 0.53)"><polygon points="-3,-21.2 -3,-27.5 4.6,-34.5 4.6,-21.2" fill="#5068c2" opacity="0.92"/><path d="M-0.5 -21.5 V-29.8 M1.9 -21.5 V-32 M-1.8 -21.5 V-28.4" stroke="#ffffff" stroke-opacity="0.22" stroke-width="0.6"/><circle cx="0" cy="-7.5" r="7.6" fill="#5068c2"/><path d="M-4.4 -21 H4.9 V-17 C4.9 -15 4.4 -13.5 6 -11 L-5.6 -11 C-4.1 -13.5 -4.4 -15 -4.4 -17 Z" fill="#5068c2"/><circle cx="-0.6" cy="-7.6" r="3.5" fill="#1e3a88"/><path d="M-3.6 -21.6 H4.6" stroke="#ffffff" stroke-opacity="0.75" stroke-width="0.55" stroke-dasharray="0.6 0.5"/></g>
<g transform="translate(354.7 100.3) scale(0.6 0.53)"><polygon points="-3.8,-21.2 -3.8,-28.6 5,-33.4 5,-21.2" fill="#5068c2" opacity="0.92"/><path d="M-1.2 -21.5 V-30 M1.4 -21.5 V-31.5 M3.4 -21.5 V-32.5" stroke="#ffffff" stroke-opacity="0.22" stroke-width="0.6"/><path d="M-5.9 -20.8 H5.9 V-7 C5.9 -3 3 0 0 0 C-3 0 -5.9 -3 -5.9 -7 Z" fill="#5068c2"/><circle cx="1" cy="-9.2" r="3.1" fill="#1e3a88"/><path d="M-4.2 -21.6 H5" stroke="#ffffff" stroke-opacity="0.75" stroke-width="0.55" stroke-dasharray="0.6 0.5"/></g>
<g transform="translate(362.9 100.3) scale(0.6 0.53)"><polygon points="-3,-21.2 -3,-27.5 4.6,-34.5 4.6,-21.2" fill="#5068c2" opacity="0.92"/><path d="M-0.5 -21.5 V-29.8 M1.9 -21.5 V-32 M-1.8 -21.5 V-28.4" stroke="#ffffff" stroke-opacity="0.22" stroke-width="0.6"/><circle cx="0" cy="-7.5" r="7.6" fill="#5068c2"/><path d="M-4.4 -21 H4.9 V-17 C4.9 -15 4.4 -13.5 6 -11 L-5.6 -11 C-4.1 -13.5 -4.4 -15 -4.4 -17 Z" fill="#5068c2"/><circle cx="-0.6" cy="-7.6" r="3.5" fill="#1e3a88"/><path d="M-3.6 -21.6 H4.6" stroke="#ffffff" stroke-opacity="0.75" stroke-width="0.55" stroke-dasharray="0.6 0.5"/></g>
<g transform="translate(372.2 100.3) scale(0.6 0.53)"><polygon points="-3.8,-21.2 -3.8,-28.6 5,-33.4 5,-21.2" fill="#5068c2" opacity="0.92"/><path d="M-1.2 -21.5 V-30 M1.4 -21.5 V-31.5 M3.4 -21.5 V-32.5" stroke="#ffffff" stroke-opacity="0.22" stroke-width="0.6"/><path d="M-5.9 -20.8 H5.9 V-7 C5.9 -3 3 0 0 0 C-3 0 -5.9 -3 -5.9 -7 Z" fill="#5068c2"/><circle cx="1" cy="-9.2" r="3.1" fill="#1e3a88"/><path d="M-4.2 -21.6 H5" stroke="#ffffff" stroke-opacity="0.75" stroke-width="0.55" stroke-dasharray="0.6 0.5"/></g>
<g transform="translate(380.6 100.3) scale(0.6 0.53)"><polygon points="-3,-21.2 -3,-27.5 4.6,-34.5 4.6,-21.2" fill="#5068c2" opacity="0.92"/><path d="M-0.5 -21.5 V-29.8 M1.9 -21.5 V-32 M-1.8 -21.5 V-28.4" stroke="#ffffff" stroke-opacity="0.22" stroke-width="0.6"/><circle cx="0" cy="-7.5" r="7.6" fill="#5068c2"/><path d="M-4.4 -21 H4.9 V-17 C4.9 -15 4.4 -13.5 6 -11 L-5.6 -11 C-4.1 -13.5 -4.4 -15 -4.4 -17 Z" fill="#5068c2"/><circle cx="-0.6" cy="-7.6" r="3.5" fill="#1e3a88"/><path d="M-3.6 -21.6 H4.6" stroke="#ffffff" stroke-opacity="0.75" stroke-width="0.55" stroke-dasharray="0.6 0.5"/></g>
<g fill="none" stroke="#222" stroke-width="0.75"><path d="M311.8 41 V66.8 L327.6 91"/><path d="M338.9 60 V70.4 L354.2 91"/><path d="M298.2 121.8 V102.2 H323.5"/></g>
<circle cx="327.6" cy="91" r="0.9" fill="#111"/><circle cx="354.2" cy="91" r="0.9" fill="#111"/><circle cx="323.5" cy="102.2" r="0.9" fill="#111"/>
<text x="289.7" y="38.2" font-size="14.6" font-weight="bold" fill="#262626" text-anchor="start" textLength="58.3" lengthAdjust="spacingAndGlyphs" >HC type I</text>
<text x="317.5" y="58.5" font-size="14.6" font-weight="bold" fill="#262626" text-anchor="start" textLength="62.9" lengthAdjust="spacingAndGlyphs" >HC type II</text>
<text x="288.5" y="132.8" font-size="14" font-weight="bold" fill="#262626" text-anchor="start" textLength="17.5" lengthAdjust="spacingAndGlyphs" >SC</text>
<path d="M398.5 70.1 V80.69999999999999 A30.2 15.8 0 0 0 458.9 80.69999999999999 V70.1 Z" fill="#f3c5d3" stroke="#d6d6d6" stroke-width="0.7"/><path d="M398.5 70.1 A30.2 15.8 0 0 1 458.9 70.1 A30.2 15.8 0 0 1 398.5 70.1 Z" fill="#ebebeb" stroke="#d0d0d0" stroke-width="0.7"/><path d="M398.5 70.1 A30.2 15.8 0 0 0 458.9 70.1 Z" fill="#f3c5d3"/><ellipse cx="428.7" cy="74.5" rx="29.0" ry="12.200000000000001" fill="#dd8dac"/><path d="M400.0 76.1 A29.0 12.200000000000001 0 0 0 457.4 76.1" fill="none" stroke="#fbe3ea" stroke-width="0.7"/>
<path d="M491.40000000000003 70.1 V80.69999999999999 A30.2 15.8 0 0 0 551.8000000000001 80.69999999999999 V70.1 Z" fill="#f3c5d3" stroke="#d6d6d6" stroke-width="0.7"/><path d="M491.40000000000003 70.1 A30.2 15.8 0 0 1 551.8000000000001 70.1 A30.2 15.8 0 0 1 491.40000000000003 70.1 Z" fill="#ebebeb" stroke="#d0d0d0" stroke-width="0.7"/><path d="M491.40000000000003 70.1 A30.2 15.8 0 0 0 551.8000000000001 70.1 Z" fill="#f3c5d3"/><ellipse cx="521.6" cy="74.5" rx="29.0" ry="12.200000000000001" fill="#dd8dac"/><path d="M492.90000000000003 76.1 A29.0 12.200000000000001 0 0 0 550.3000000000001 76.1" fill="none" stroke="#fbe3ea" stroke-width="0.7"/>
<ellipse cx="428.6" cy="74.6" rx="3.4" ry="5.6" transform="rotate(-32 428.6 74.6)" fill="#1e4a8a" stroke="#3a7ad6" stroke-width="0.9"/>
<path d="M428 72.5 Q427 75 429.5 77" stroke="#f0c040" stroke-width="1.1" fill="none" stroke-linecap="round"/>
<ellipse cx="520.8" cy="74.3" rx="3.4" ry="5.6" transform="rotate(-32 520.8 74.3)" fill="#8a3c40" stroke="#c27a4e" stroke-width="0.9"/>
<path d="M520.2 72.2 Q519.2 74.8 521.7 76.8" stroke="#2a1430" stroke-width="1.3" fill="none" stroke-linecap="round"/>
<path d="M429 58 L453.5 31" stroke="#c6d5ec" stroke-width="3.2" stroke-linecap="round"/>
<path d="M429.3 58.3 L428.8 60.5" stroke="#9fb4d8" stroke-width="1.2"/>
<path d="M522.5 55.5 L541 35" stroke="#e0a23c" stroke-width="3.2" stroke-linecap="round"/>
<path d="M541 35 L547 28.5" stroke="#d8d8d8" stroke-width="3.2" stroke-linecap="round"/>
<path d="M522.4 56 L522 58" stroke="#c08020" stroke-width="1.2"/>
<path d="M388 78.6 H425" stroke="#a0a0a0" stroke-width="1.1" stroke-dasharray="2.4 1.8" fill="none"/>
<path d="M400 78.6 H425" stroke="#6a6a6a" stroke-width="1.1" stroke-dasharray="2.4 1.8" stroke-dashoffset="-0.2" fill="none"/>
<path d="M393.8 112.8 L425 79.4" stroke="#262626" stroke-width="1.4" stroke-dasharray="2.8 1.9" fill="none"/>
<path d="M526 78.8 H566" stroke="#444" stroke-width="1.3" stroke-dasharray="2.5 1.9" fill="none"/>
<path d="M525.3 80 L556.2 113" stroke="#c4c4c4" stroke-width="1.2" stroke-dasharray="2.4 1.9" fill="none"/>
<path d="M525.3 80 L540 95.7" stroke="#444" stroke-width="1.2" stroke-dasharray="2.4 1.9" fill="none"/>
<rect x="460.6" y="24.2" width="45" height="15.3" rx="3" fill="#eef2fa" stroke="#2a5c9a" stroke-width="1.3"/>
<text x="465" y="35.7" font-size="10.6" font-weight="bold" fill="#222" text-anchor="start" textLength="35.5" lengthAdjust="spacingAndGlyphs" >Control</text>
<rect x="552.3" y="24.8" width="67" height="14.6" rx="3" fill="#eef2fa" stroke="#c87a78" stroke-width="1.3"/>
<text x="558.4" y="35.9" font-size="10.6" font-weight="bold" fill="#222" text-anchor="start" textLength="55.5" lengthAdjust="spacingAndGlyphs" >Gentamicin</text>
<text x="580" y="56.2" font-size="11.3" font-weight="bold" fill="#262626" text-anchor="start" textLength="69.5" lengthAdjust="spacingAndGlyphs" >Damaged HCs</text>
<rect x="558" y="79.3" width="85" height="41.4" rx="11.5" fill="#e9eff9" stroke="#c87a78" stroke-width="1.5"/>
<rect x="564.5" y="89" width="70" height="22.6" rx="1.5" fill="#f0c9cb"/>
<rect x="564.5" y="111.6" width="70" height="4.6" fill="#f8e0e8"/>
<line x1="573.5" y1="101" x2="573.5" y2="111.4" stroke="#e3b3b5" stroke-width="0.5"/>
<line x1="582.5" y1="101" x2="582.5" y2="111.4" stroke="#e3b3b5" stroke-width="0.5"/>
<line x1="591.5" y1="101" x2="591.5" y2="111.4" stroke="#e3b3b5" stroke-width="0.5"/>
<line x1="600.5" y1="101" x2="600.5" y2="111.4" stroke="#e3b3b5" stroke-width="0.5"/>
<line x1="609.5" y1="101" x2="609.5" y2="111.4" stroke="#e3b3b5" stroke-width="0.5"/>
<line x1="618.5" y1="101" x2="618.5" y2="111.4" stroke="#e3b3b5" stroke-width="0.5"/>
<line x1="627.5" y1="101" x2="627.5" y2="111.4" stroke="#e3b3b5" stroke-width="0.5"/>
<circle cx="569.2" cy="106.2" r="1.8" fill="#d99a9c"/>
<circle cx="578" cy="106.2" r="1.8" fill="#d99a9c"/>
<circle cx="587" cy="106.2" r="1.8" fill="#d99a9c"/>
<circle cx="596" cy="106.2" r="1.8" fill="#d99a9c"/>
<circle cx="604.8" cy="106.2" r="1.8" fill="#d99a9c"/>
<circle cx="613.6" cy="106.2" r="1.8" fill="#d99a9c"/>
<circle cx="622.5" cy="106.2" r="1.8" fill="#d99a9c"/>
<circle cx="631" cy="106.2" r="1.8" fill="#d99a9c"/>
<g transform="translate(573.3 101.5)"><path d="M-3.4 -1.5 V-11.5 Q-3.4 -14 0 -14 Q3.4 -14 3.4 -11.5 V-1.5 Q3.4 0 0 0 Q-3.4 0 -3.4 -1.5 Z" fill="#b8585a"/><circle cx="0" cy="-4.8" r="1.9" fill="#862628"/></g>
<g fill="#b8585a"><circle cx="575.9" cy="96.6" r="0.72"/><circle cx="570.3" cy="87.8" r="0.70"/><circle cx="570.1" cy="93.6" r="0.47"/><circle cx="570.5" cy="94.6" r="0.68"/><circle cx="569.2" cy="100.7" r="0.40"/><circle cx="575.9" cy="96.1" r="0.49"/><circle cx="575.9" cy="90.3" r="0.51"/><circle cx="569.2" cy="99.1" r="0.42"/><circle cx="577.7" cy="86.8" r="0.70"/><circle cx="576.4" cy="87.4" r="0.51"/><circle cx="577.0" cy="91.6" r="0.53"/><circle cx="576.7" cy="89.1" r="0.44"/><circle cx="577.4" cy="86.1" r="0.60"/><circle cx="577.0" cy="86.7" r="0.67"/><circle cx="569.6" cy="92.1" r="0.55"/><circle cx="577.3" cy="92.0" r="0.51"/><circle cx="576.7" cy="101.2" r="0.49"/><circle cx="569.2" cy="94.6" r="0.48"/><circle cx="568.9" cy="88.1" r="0.53"/><circle cx="576.0" cy="100.4" r="0.64"/><circle cx="577.1" cy="101.0" r="0.66"/><circle cx="569.2" cy="95.0" r="0.65"/><circle cx="569.3" cy="93.6" r="0.42"/><circle cx="569.5" cy="87.5" r="0.53"/><circle cx="577.5" cy="99.1" r="0.44"/><circle cx="577.5" cy="99.5" r="0.73"/></g>
<g fill="#b35254"><circle cx="573.4" cy="83.9" r="0.72"/><circle cx="572.8" cy="84.4" r="0.70"/><circle cx="571.7" cy="87.3" r="0.47"/><circle cx="569.6" cy="85.7" r="0.65"/><circle cx="574.2" cy="82.2" r="0.54"/><circle cx="574.2" cy="83.7" r="0.71"/><circle cx="571.9" cy="85.2" r="0.57"/><circle cx="573.7" cy="85.1" r="0.48"/><circle cx="574.3" cy="84.5" r="0.71"/><circle cx="571.7" cy="86.9" r="0.69"/><circle cx="573.3" cy="82.7" r="0.62"/><circle cx="572.3" cy="83.5" r="0.76"/><circle cx="573.5" cy="87.0" r="0.77"/><circle cx="574.2" cy="84.4" r="0.61"/><circle cx="574.2" cy="83.0" r="0.52"/><circle cx="574.2" cy="83.9" r="0.56"/><circle cx="571.0" cy="86.4" r="0.55"/><circle cx="571.0" cy="83.1" r="0.59"/><circle cx="573.5" cy="82.0" r="0.53"/><circle cx="570.9" cy="87.8" r="0.62"/><circle cx="573.2" cy="85.3" r="0.56"/><circle cx="575.0" cy="82.6" r="0.50"/></g>
<g transform="translate(582.7 102)"><path d="M-3.2 -6 V-12 Q-3.2 -14.5 0 -14.5 Q3.2 -14.5 3.2 -12 V-6 Q3.2 0 0 0 Q-3.2 0 -3.2 -6 Z" fill="#c46a6c" stroke="#b05456" stroke-width="0.5"/><ellipse cx="0" cy="-5.5" rx="1.7" ry="2.2" fill="#8a2a2c"/></g>
<g fill="#b35254"><circle cx="582.6" cy="81.1" r="0.61"/><circle cx="583.8" cy="82.2" r="0.74"/><circle cx="580.7" cy="84.1" r="0.75"/><circle cx="582.3" cy="85.2" r="0.71"/><circle cx="583.2" cy="81.3" r="0.53"/><circle cx="583.4" cy="83.0" r="0.69"/><circle cx="584.6" cy="81.3" r="0.52"/><circle cx="580.9" cy="86.2" r="0.52"/><circle cx="584.8" cy="83.1" r="0.54"/><circle cx="581.7" cy="81.9" r="0.56"/><circle cx="582.1" cy="85.0" r="0.48"/><circle cx="583.1" cy="82.2" r="0.55"/><circle cx="580.4" cy="85.5" r="0.45"/><circle cx="581.0" cy="85.7" r="0.60"/><circle cx="582.8" cy="84.6" r="0.78"/><circle cx="583.6" cy="85.3" r="0.64"/><circle cx="580.8" cy="87.2" r="0.49"/><circle cx="585.6" cy="81.8" r="0.77"/><circle cx="582.1" cy="87.3" r="0.72"/><circle cx="582.9" cy="82.7" r="0.55"/><circle cx="581.8" cy="83.3" r="0.54"/><circle cx="581.5" cy="82.7" r="0.79"/></g>
<g transform="translate(591.7 101.5)"><path d="M-3.4 -1.5 V-11.5 Q-3.4 -14 0 -14 Q3.4 -14 3.4 -11.5 V-1.5 Q3.4 0 0 0 Q-3.4 0 -3.4 -1.5 Z" fill="#b8585a"/><circle cx="0" cy="-4.8" r="1.9" fill="#862628"/></g>
<g fill="#b8585a"><circle cx="587.9" cy="96.8" r="0.58"/><circle cx="595.6" cy="87.0" r="0.60"/><circle cx="588.8" cy="88.9" r="0.71"/><circle cx="589.0" cy="96.5" r="0.60"/><circle cx="595.3" cy="100.7" r="0.63"/><circle cx="595.8" cy="93.3" r="0.65"/><circle cx="587.7" cy="87.7" r="0.59"/><circle cx="594.4" cy="97.8" r="0.49"/><circle cx="589.1" cy="86.9" r="0.58"/><circle cx="596.0" cy="90.0" r="0.73"/><circle cx="588.5" cy="93.2" r="0.70"/><circle cx="595.4" cy="87.8" r="0.64"/><circle cx="588.8" cy="95.0" r="0.47"/><circle cx="595.8" cy="92.7" r="0.66"/><circle cx="587.5" cy="95.5" r="0.68"/><circle cx="588.1" cy="94.7" r="0.47"/><circle cx="594.3" cy="90.0" r="0.68"/><circle cx="594.8" cy="100.3" r="0.72"/><circle cx="596.2" cy="91.0" r="0.64"/><circle cx="594.3" cy="90.8" r="0.47"/><circle cx="587.7" cy="96.1" r="0.63"/><circle cx="594.6" cy="93.9" r="0.67"/><circle cx="594.4" cy="89.4" r="0.50"/><circle cx="588.9" cy="96.5" r="0.68"/><circle cx="589.1" cy="96.0" r="0.62"/><circle cx="595.3" cy="94.1" r="0.73"/></g>
<g fill="#b35254"><circle cx="592.1" cy="85.7" r="0.50"/><circle cx="591.4" cy="82.0" r="0.66"/><circle cx="592.5" cy="81.5" r="0.57"/><circle cx="590.6" cy="82.4" r="0.78"/><circle cx="590.9" cy="82.0" r="0.62"/><circle cx="590.9" cy="87.2" r="0.46"/><circle cx="590.2" cy="87.5" r="0.62"/><circle cx="592.8" cy="83.1" r="0.64"/><circle cx="590.6" cy="85.0" r="0.61"/><circle cx="591.5" cy="82.7" r="0.59"/><circle cx="591.9" cy="86.7" r="0.58"/><circle cx="589.9" cy="85.4" r="0.64"/><circle cx="591.8" cy="83.8" r="0.52"/><circle cx="592.5" cy="82.5" r="0.50"/><circle cx="591.6" cy="84.8" r="0.51"/><circle cx="591.9" cy="85.2" r="0.51"/><circle cx="590.4" cy="87.8" r="0.62"/><circle cx="590.4" cy="87.6" r="0.46"/><circle cx="589.7" cy="84.9" r="0.47"/><circle cx="592.1" cy="85.2" r="0.59"/><circle cx="590.6" cy="87.8" r="0.48"/><circle cx="591.2" cy="84.7" r="0.51"/></g>
<g transform="translate(600.7 102)"><path d="M-3.2 -6 V-12 Q-3.2 -14.5 0 -14.5 Q3.2 -14.5 3.2 -12 V-6 Q3.2 0 0 0 Q-3.2 0 -3.2 -6 Z" fill="#c46a6c" stroke="#b05456" stroke-width="0.5"/><ellipse cx="0" cy="-5.5" rx="1.7" ry="2.2" fill="#8a2a2c"/></g>
<g fill="#b35254"><circle cx="600.5" cy="83.6" r="0.47"/><circle cx="601.8" cy="82.9" r="0.55"/><circle cx="598.7" cy="82.5" r="0.56"/><circle cx="600.2" cy="86.3" r="0.54"/><circle cx="600.8" cy="82.3" r="0.48"/><circle cx="600.3" cy="83.2" r="0.79"/><circle cx="601.1" cy="83.9" r="0.48"/><circle cx="599.3" cy="86.8" r="0.46"/><circle cx="597.4" cy="87.6" r="0.52"/><circle cx="600.0" cy="81.2" r="0.62"/><circle cx="604.0" cy="82.4" r="0.46"/><circle cx="598.4" cy="85.9" r="0.66"/><circle cx="602.9" cy="81.4" r="0.75"/><circle cx="599.6" cy="87.2" r="0.59"/><circle cx="598.7" cy="85.7" r="0.51"/><circle cx="598.8" cy="82.8" r="0.71"/><circle cx="599.1" cy="82.2" r="0.58"/><circle cx="599.3" cy="85.1" r="0.53"/><circle cx="600.5" cy="82.5" r="0.51"/><circle cx="601.3" cy="83.0" r="0.66"/><circle cx="600.1" cy="83.0" r="0.50"/><circle cx="602.1" cy="83.0" r="0.46"/></g>
<g transform="translate(609.8 101.5)"><path d="M-3.4 -1.5 V-11.5 Q-3.4 -14 0 -14 Q3.4 -14 3.4 -11.5 V-1.5 Q3.4 0 0 0 Q-3.4 0 -3.4 -1.5 Z" fill="#b8585a"/><circle cx="0" cy="-4.8" r="1.9" fill="#862628"/></g>
<g fill="#b8585a"><circle cx="606.7" cy="93.5" r="0.61"/><circle cx="605.5" cy="98.8" r="0.71"/><circle cx="614.3" cy="93.2" r="0.40"/><circle cx="606.6" cy="89.1" r="0.51"/><circle cx="606.8" cy="93.2" r="0.42"/><circle cx="606.1" cy="88.4" r="0.40"/><circle cx="606.9" cy="89.7" r="0.60"/><circle cx="613.9" cy="92.7" r="0.59"/><circle cx="606.1" cy="89.0" r="0.41"/><circle cx="605.6" cy="98.9" r="0.44"/><circle cx="612.5" cy="101.1" r="0.56"/><circle cx="606.0" cy="89.6" r="0.67"/><circle cx="613.1" cy="99.9" r="0.63"/><circle cx="614.0" cy="98.4" r="0.61"/><circle cx="607.1" cy="99.0" r="0.40"/><circle cx="606.6" cy="90.8" r="0.47"/><circle cx="613.1" cy="98.1" r="0.63"/><circle cx="606.8" cy="95.7" r="0.69"/><circle cx="606.4" cy="87.0" r="0.43"/><circle cx="605.8" cy="89.5" r="0.47"/><circle cx="614.2" cy="89.5" r="0.59"/><circle cx="605.5" cy="92.7" r="0.73"/><circle cx="613.2" cy="93.7" r="0.61"/><circle cx="606.9" cy="86.6" r="0.43"/><circle cx="613.3" cy="97.6" r="0.42"/><circle cx="605.8" cy="93.6" r="0.50"/></g>
<g fill="#b35254"><circle cx="608.2" cy="85.0" r="0.71"/><circle cx="610.4" cy="86.0" r="0.49"/><circle cx="608.4" cy="85.9" r="0.50"/><circle cx="610.7" cy="82.7" r="0.70"/><circle cx="613.6" cy="81.2" r="0.58"/><circle cx="608.1" cy="86.9" r="0.56"/><circle cx="607.9" cy="84.8" r="0.58"/><circle cx="610.5" cy="82.0" r="0.55"/><circle cx="611.1" cy="84.8" r="0.55"/><circle cx="607.2" cy="86.3" r="0.73"/><circle cx="608.8" cy="87.9" r="0.64"/><circle cx="609.5" cy="86.8" r="0.47"/><circle cx="608.7" cy="86.6" r="0.79"/><circle cx="609.2" cy="82.5" r="0.79"/><circle cx="608.0" cy="87.8" r="0.60"/><circle cx="609.2" cy="85.6" r="0.47"/><circle cx="610.6" cy="84.2" r="0.54"/><circle cx="611.2" cy="82.4" r="0.60"/><circle cx="609.9" cy="86.2" r="0.67"/><circle cx="610.5" cy="83.3" r="0.77"/><circle cx="610.6" cy="82.3" r="0.72"/><circle cx="611.2" cy="82.5" r="0.63"/></g>
<g transform="translate(619.3 102)"><path d="M-3.2 -6 V-12 Q-3.2 -14.5 0 -14.5 Q3.2 -14.5 3.2 -12 V-6 Q3.2 0 0 0 Q-3.2 0 -3.2 -6 Z" fill="#c46a6c" stroke="#b05456" stroke-width="0.5"/><ellipse cx="0" cy="-5.5" rx="1.7" ry="2.2" fill="#8a2a2c"/></g>
<g fill="#b35254"><circle cx="619.3" cy="82.2" r="0.51"/><circle cx="617.0" cy="87.9" r="0.68"/><circle cx="621.6" cy="81.7" r="0.68"/><circle cx="619.8" cy="81.5" r="0.73"/><circle cx="618.2" cy="83.8" r="0.51"/><circle cx="618.7" cy="86.7" r="0.69"/><circle cx="619.6" cy="81.1" r="0.57"/><circle cx="618.5" cy="84.8" r="0.73"/><circle cx="619.6" cy="84.8" r="0.56"/><circle cx="619.0" cy="84.3" r="0.59"/><circle cx="621.6" cy="82.0" r="0.66"/><circle cx="615.0" cy="87.8" r="0.65"/><circle cx="618.3" cy="84.2" r="0.70"/><circle cx="620.6" cy="81.6" r="0.49"/><circle cx="618.6" cy="83.3" r="0.76"/><circle cx="621.7" cy="81.3" r="0.68"/><circle cx="618.6" cy="86.6" r="0.58"/><circle cx="619.8" cy="82.2" r="0.56"/><circle cx="621.0" cy="86.1" r="0.56"/><circle cx="617.8" cy="85.3" r="0.55"/><circle cx="617.8" cy="87.1" r="0.48"/><circle cx="621.5" cy="86.4" r="0.52"/></g>
<g transform="translate(628.3 101.5)"><path d="M-3.4 -1.5 V-11.5 Q-3.4 -14 0 -14 Q3.4 -14 3.4 -11.5 V-1.5 Q3.4 0 0 0 Q-3.4 0 -3.4 -1.5 Z" fill="#b8585a"/><circle cx="0" cy="-4.8" r="1.9" fill="#862628"/></g>
<g fill="#b8585a"><circle cx="624.3" cy="87.3" r="0.69"/><circle cx="623.9" cy="96.1" r="0.74"/><circle cx="631.3" cy="97.1" r="0.57"/><circle cx="625.5" cy="90.3" r="0.57"/><circle cx="624.0" cy="88.7" r="0.46"/><circle cx="632.1" cy="101.9" r="0.45"/><circle cx="625.2" cy="86.9" r="0.63"/><circle cx="625.7" cy="88.1" r="0.74"/><circle cx="632.4" cy="94.6" r="0.55"/><circle cx="625.2" cy="88.9" r="0.45"/><circle cx="625.0" cy="88.3" r="0.73"/><circle cx="625.8" cy="95.7" r="0.53"/><circle cx="631.3" cy="88.3" r="0.52"/><circle cx="631.0" cy="101.2" r="0.70"/><circle cx="631.9" cy="93.6" r="0.70"/><circle cx="631.7" cy="93.1" r="0.59"/><circle cx="632.5" cy="93.1" r="0.47"/><circle cx="625.2" cy="95.5" r="0.70"/><circle cx="631.3" cy="101.3" r="0.47"/><circle cx="625.0" cy="86.8" r="0.71"/><circle cx="625.5" cy="87.8" r="0.44"/><circle cx="631.9" cy="92.5" r="0.67"/><circle cx="631.5" cy="87.5" r="0.61"/><circle cx="631.8" cy="89.5" r="0.53"/><circle cx="632.2" cy="91.1" r="0.67"/><circle cx="632.5" cy="97.6" r="0.69"/></g>
<g fill="#b35254"><circle cx="628.2" cy="86.0" r="0.49"/><circle cx="627.9" cy="84.5" r="0.71"/><circle cx="626.9" cy="85.6" r="0.79"/><circle cx="627.1" cy="84.8" r="0.62"/><circle cx="630.6" cy="84.3" r="0.63"/><circle cx="625.4" cy="84.9" r="0.67"/><circle cx="624.5" cy="87.5" r="0.72"/><circle cx="627.6" cy="87.6" r="0.75"/><circle cx="628.8" cy="85.3" r="0.53"/><circle cx="628.1" cy="84.2" r="0.76"/><circle cx="629.1" cy="85.0" r="0.58"/><circle cx="626.0" cy="85.9" r="0.63"/><circle cx="626.5" cy="85.2" r="0.76"/><circle cx="629.6" cy="83.9" r="0.50"/><circle cx="625.9" cy="86.5" r="0.50"/><circle cx="627.8" cy="87.4" r="0.56"/><circle cx="628.8" cy="86.0" r="0.77"/><circle cx="628.4" cy="84.3" r="0.71"/><circle cx="630.6" cy="82.2" r="0.60"/><circle cx="626.4" cy="83.2" r="0.49"/><circle cx="628.4" cy="81.8" r="0.76"/><circle cx="628.2" cy="86.0" r="0.52"/></g>
<path d="M628 61 V71 L609.5 92" fill="none" stroke="#222" stroke-width="0.75"/><circle cx="609.5" cy="92" r="0.9" fill="#111"/>
<text x="2" y="417.9" font-size="16" font-weight="bold" fill="#262626" text-anchor="start" >b</text>
<rect x="27.2" y="424.6" width="350.5" height="207" fill="#ebebeb"/>
<line x1="46.2" y1="424.6" x2="46.2" y2="631.6" stroke="#f5f5f5" stroke-width="0.55"/>
<line x1="105.8" y1="424.6" x2="105.8" y2="631.6" stroke="#f5f5f5" stroke-width="0.55"/>
<line x1="165.5" y1="424.6" x2="165.5" y2="631.6" stroke="#f5f5f5" stroke-width="0.55"/>
<line x1="225.1" y1="424.6" x2="225.1" y2="631.6" stroke="#f5f5f5" stroke-width="0.55"/>
<line x1="284.8" y1="424.6" x2="284.8" y2="631.6" stroke="#f5f5f5" stroke-width="0.55"/>
<line x1="344.4" y1="424.6" x2="344.4" y2="631.6" stroke="#f5f5f5" stroke-width="0.55"/>
<line x1="27.2" y1="583.4" x2="377.7" y2="583.4" stroke="#f5f5f5" stroke-width="0.55"/>
<line x1="27.2" y1="523.8" x2="377.7" y2="523.8" stroke="#f5f5f5" stroke-width="0.55"/>
<line x1="27.2" y1="464.2" x2="377.7" y2="464.2" stroke="#f5f5f5" stroke-width="0.55"/>
<line x1="76.0" y1="424.6" x2="76.0" y2="631.6" stroke="#ffffff" stroke-width="1.1"/>
<line x1="76.0" y1="631.6" x2="76.0" y2="634.3" stroke="#333" stroke-width="0.6"/>
<text x="76.0" y="640.8" font-size="6.4" font-weight="normal" fill="#4d4d4d" text-anchor="middle" >&#8722;10</text>
<line x1="135.7" y1="424.6" x2="135.7" y2="631.6" stroke="#ffffff" stroke-width="1.1"/>
<line x1="135.7" y1="631.6" x2="135.7" y2="634.3" stroke="#333" stroke-width="0.6"/>
<text x="135.7" y="640.8" font-size="6.4" font-weight="normal" fill="#4d4d4d" text-anchor="middle" >0</text>
<line x1="195.3" y1="424.6" x2="195.3" y2="631.6" stroke="#ffffff" stroke-width="1.1"/>
<line x1="195.3" y1="631.6" x2="195.3" y2="634.3" stroke="#333" stroke-width="0.6"/>
<text x="195.3" y="640.8" font-size="6.4" font-weight="normal" fill="#4d4d4d" text-anchor="middle" >10</text>
<line x1="254.9" y1="424.6" x2="254.9" y2="631.6" stroke="#ffffff" stroke-width="1.1"/>
<line x1="254.9" y1="631.6" x2="254.9" y2="634.3" stroke="#333" stroke-width="0.6"/>
<text x="254.9" y="640.8" font-size="6.4" font-weight="normal" fill="#4d4d4d" text-anchor="middle" >20</text>
<line x1="314.6" y1="424.6" x2="314.6" y2="631.6" stroke="#ffffff" stroke-width="1.1"/>
<line x1="314.6" y1="631.6" x2="314.6" y2="634.3" stroke="#333" stroke-width="0.6"/>
<text x="314.6" y="640.8" font-size="6.4" font-weight="normal" fill="#4d4d4d" text-anchor="middle" >30</text>
<line x1="374.2" y1="424.6" x2="374.2" y2="631.6" stroke="#ffffff" stroke-width="1.1"/>
<line x1="374.2" y1="631.6" x2="374.2" y2="634.3" stroke="#333" stroke-width="0.6"/>
<text x="374.2" y="640.8" font-size="6.4" font-weight="normal" fill="#4d4d4d" text-anchor="middle" >40</text>
<line x1="27.2" y1="613.2" x2="377.7" y2="613.2" stroke="#ffffff" stroke-width="1.1"/>
<line x1="24.6" y1="613.2" x2="27.2" y2="613.2" stroke="#333" stroke-width="0.6"/>
<text x="24.2" y="615.4" font-size="6.4" font-weight="normal" fill="#4d4d4d" text-anchor="end" >&#8722;10</text>
<line x1="27.2" y1="553.6" x2="377.7" y2="553.6" stroke="#ffffff" stroke-width="1.1"/>
<line x1="24.6" y1="553.6" x2="27.2" y2="553.6" stroke="#333" stroke-width="0.6"/>
<text x="24.2" y="555.8" font-size="6.4" font-weight="normal" fill="#4d4d4d" text-anchor="end" >0</text>
<line x1="27.2" y1="494.0" x2="377.7" y2="494.0" stroke="#ffffff" stroke-width="1.1"/>
<line x1="24.6" y1="494.0" x2="27.2" y2="494.0" stroke="#333" stroke-width="0.6"/>
<text x="24.2" y="496.2" font-size="6.4" font-weight="normal" fill="#4d4d4d" text-anchor="end" >10</text>
<line x1="27.2" y1="434.4" x2="377.7" y2="434.4" stroke="#ffffff" stroke-width="1.1"/>
<line x1="24.6" y1="434.4" x2="27.2" y2="434.4" stroke="#333" stroke-width="0.6"/>
<text x="24.2" y="436.6" font-size="6.4" font-weight="normal" fill="#4d4d4d" text-anchor="end" >20</text>
<text x="167.2" y="650.5" font-size="8.3" font-weight="normal" fill="#1a1a1a" text-anchor="start" textLength="71" lengthAdjust="spacingAndGlyphs" >PC1: 63% variance</text>
<text transform="translate(8.6 564.1) rotate(-90)" font-size="8.3" fill="#1a1a1a" textLength="70.8" lengthAdjust="spacingAndGlyphs">PC2: 12% variance</text>
<path d="M44.5 562.5 L61.5 544" stroke="#16999a" stroke-width="1"/>
<path d="M52 564 L56.5 561" stroke="#16999a" stroke-width="1"/>
<rect x="55.3" y="531.5" width="17.299999999999997" height="11.799999999999955" rx="1" fill="#ffffff" stroke="#16999a" stroke-width="0.75" stroke-opacity="0.6"/>
<text x="63.9" y="540.7" font-size="8.6" font-weight="normal" fill="#16999a" text-anchor="middle" >C1</text>
<rect x="57.3" y="551.1" width="17.299999999999997" height="11.199999999999932" rx="1" fill="#ffffff" stroke="#16999a" stroke-width="0.75" stroke-opacity="0.6"/>
<text x="65.9" y="559.7" font-size="8.6" font-weight="normal" fill="#16999a" text-anchor="middle" >C2</text>
<rect x="54.6" y="566.6" width="17.6" height="11.799999999999955" rx="1" fill="#ffffff" stroke="#16999a" stroke-width="0.75" stroke-opacity="0.6"/>
<text x="63.4" y="575.8" font-size="8.6" font-weight="normal" fill="#16999a" text-anchor="middle" >C3</text>
<rect x="111.4" y="438.5" width="16.900000000000006" height="11.699999999999989" rx="1" fill="#ffffff" stroke="#dd6f10" stroke-width="0.75" stroke-opacity="0.6"/>
<text x="119.9" y="447.6" font-size="8.6" font-weight="normal" fill="#dd6f10" text-anchor="middle" >T1</text>
<rect x="181.2" y="605.2" width="17.5" height="10.199999999999932" rx="1" fill="#ffffff" stroke="#dd6f10" stroke-width="0.75" stroke-opacity="0.6"/>
<text x="189.9" y="612.8" font-size="8.6" font-weight="normal" fill="#dd6f10" text-anchor="middle" >T2</text>
<rect x="346.2" y="526.4" width="17.30000000000001" height="10.700000000000045" rx="1" fill="#ffffff" stroke="#dd6f10" stroke-width="0.75" stroke-opacity="0.6"/>
<text x="354.9" y="534.5" font-size="8.6" font-weight="normal" fill="#dd6f10" text-anchor="middle" >T3</text>
<circle cx="43.3" cy="563.5" r="2.8" fill="#16999a"/>
<circle cx="47.8" cy="566.4" r="2.8" fill="#16999a"/>
<circle cx="50.5" cy="566.4" r="2.8" fill="#16999a"/>
<circle cx="119.1" cy="456.3" r="2.8" fill="#dd6f10"/>
<circle cx="189.6" cy="623" r="2.8" fill="#dd6f10"/>
<circle cx="360.9" cy="543.6" r="2.8" fill="#dd6f10"/>
<rect x="323.5" y="436.5" width="41.2" height="26" fill="#ffffff" stroke="#222" stroke-width="0.8"/>
<circle cx="329.7" cy="443.3" r="3.1" fill="#16999a"/><circle cx="329.7" cy="456.7" r="3.1" fill="#dd6f10"/>
<text x="336.3" y="445.9" font-size="6.6" font-weight="normal" fill="#333" text-anchor="start" textLength="23.5" lengthAdjust="spacingAndGlyphs" >Control</text>
<text x="336.3" y="459.3" font-size="6.6" font-weight="normal" fill="#333" text-anchor="start" textLength="23.5" lengthAdjust="spacingAndGlyphs" >Treated</text>
<text x="392.3" y="416.9" font-size="16" font-weight="bold" fill="#262626" text-anchor="start" >c</text>
<rect x="414.80" y="432.60" width="37.75" height="4.94" fill="#e8e800"/><rect x="452.50" y="432.60" width="37.15" height="4.94" fill="#262600"/><rect x="489.60" y="432.60" width="37.55" height="4.94" fill="#0f000f"/><rect x="527.10" y="432.60" width="37.95" height="4.94" fill="#b000b0"/><rect x="565.00" y="432.60" width="37.55" height="4.94" fill="#140014"/><rect x="602.50" y="432.60" width="37.65" height="4.94" fill="#360036"/><rect x="414.80" y="437.49" width="37.75" height="4.94" fill="#f0f000"/><rect x="452.50" y="437.49" width="37.15" height="4.94" fill="#000000"/><rect x="489.60" y="437.49" width="37.55" height="4.94" fill="#1a1a00"/><rect x="527.10" y="437.49" width="37.95" height="4.94" fill="#800080"/><rect x="565.00" y="437.49" width="37.55" height="4.94" fill="#300030"/><rect x="602.50" y="437.49" width="37.65" height="4.94" fill="#4a004a"/><rect x="414.80" y="442.39" width="37.75" height="4.94" fill="#ffff00"/><rect x="452.50" y="442.39" width="37.15" height="4.94" fill="#000000"/><rect x="489.60" y="442.39" width="37.55" height="4.94" fill="#1a001a"/><rect x="527.10" y="442.39" width="37.95" height="4.94" fill="#590059"/><rect x="565.00" y="442.39" width="37.55" height="4.94" fill="#140014"/><rect x="602.50" y="442.39" width="37.65" height="4.94" fill="#660066"/><rect x="414.80" y="447.28" width="37.75" height="4.94" fill="#ffff00"/><rect x="452.50" y="447.28" width="37.15" height="4.94" fill="#000000"/><rect x="489.60" y="447.28" width="37.55" height="4.94" fill="#0f000f"/><rect x="527.10" y="447.28" width="37.95" height="4.94" fill="#700070"/><rect x="565.00" y="447.28" width="37.55" height="4.94" fill="#300030"/><rect x="602.50" y="447.28" width="37.65" height="4.94" fill="#4f004f"/><rect x="414.80" y="452.18" width="37.75" height="4.94" fill="#ffff00"/><rect x="452.50" y="452.18" width="37.15" height="4.94" fill="#050500"/><rect x="489.60" y="452.18" width="37.55" height="4.94" fill="#0f000f"/><rect x="527.10" y="452.18" width="37.95" height="4.94" fill="#140014"/><rect x="565.00" y="452.18" width="37.55" height="4.94" fill="#850085"/><rect x="602.50" y="452.18" width="37.65" height="4.94" fill="#4f004f"/><rect x="414.80" y="457.07" width="37.75" height="4.94" fill="#e8e800"/><rect x="452.50" y="457.07" width="37.15" height="4.94" fill="#303000"/><rect x="489.60" y="457.07" width="37.55" height="4.94" fill="#1a1a00"/><rect x="527.10" y="457.07" width="37.95" height="4.94" fill="#6b006b"/><rect x="565.00" y="457.07" width="37.55" height="4.94" fill="#870087"/><rect x="602.50" y="457.07" width="37.65" height="4.94" fill="#290029"/><rect x="414.80" y="461.97" width="37.75" height="4.94" fill="#a8a800"/><rect x="452.50" y="461.97" width="37.15" height="4.94" fill="#454500"/><rect x="489.60" y="461.97" width="37.55" height="4.94" fill="#4f4f00"/><rect x="527.10" y="461.97" width="37.95" height="4.94" fill="#260026"/><rect x="565.00" y="461.97" width="37.55" height="4.94" fill="#a100a1"/><rect x="602.50" y="461.97" width="37.65" height="4.94" fill="#850085"/><rect x="414.80" y="466.86" width="37.75" height="4.94" fill="#7a7a00"/><rect x="452.50" y="466.86" width="37.15" height="4.94" fill="#999900"/><rect x="489.60" y="466.86" width="37.55" height="4.94" fill="#4f4f00"/><rect x="527.10" y="466.86" width="37.95" height="4.94" fill="#290029"/><rect x="565.00" y="466.86" width="37.55" height="4.94" fill="#a100a1"/><rect x="602.50" y="466.86" width="37.65" height="4.94" fill="#800080"/><rect x="414.80" y="471.76" width="37.75" height="4.94" fill="#616100"/><rect x="452.50" y="471.76" width="37.15" height="4.94" fill="#a1a100"/><rect x="489.60" y="471.76" width="37.55" height="4.94" fill="#707000"/><rect x="527.10" y="471.76" width="37.95" height="4.94" fill="#700070"/><rect x="565.00" y="471.76" width="37.55" height="4.94" fill="#8f008f"/><rect x="602.50" y="471.76" width="37.65" height="4.94" fill="#660066"/><rect x="414.80" y="476.65" width="37.75" height="4.94" fill="#8f8f00"/><rect x="452.50" y="476.65" width="37.15" height="4.94" fill="#707000"/><rect x="489.60" y="476.65" width="37.55" height="4.94" fill="#6b6b00"/><rect x="527.10" y="476.65" width="37.95" height="4.94" fill="#7a007a"/><rect x="565.00" y="476.65" width="37.55" height="4.94" fill="#850085"/><rect x="602.50" y="476.65" width="37.65" height="4.94" fill="#660066"/><rect x="414.80" y="481.55" width="37.75" height="4.94" fill="#8a8a00"/><rect x="452.50" y="481.55" width="37.15" height="4.94" fill="#4f4f00"/><rect x="489.60" y="481.55" width="37.55" height="4.94" fill="#6b6b00"/><rect x="527.10" y="481.55" width="37.95" height="4.94" fill="#b800b8"/><rect x="565.00" y="481.55" width="37.55" height="4.94" fill="#210021"/><rect x="602.50" y="481.55" width="37.65" height="4.94" fill="#870087"/><rect x="414.80" y="486.44" width="37.75" height="4.94" fill="#999900"/><rect x="452.50" y="486.44" width="37.15" height="4.94" fill="#454500"/><rect x="489.60" y="486.44" width="37.55" height="4.94" fill="#7a7a00"/><rect x="527.10" y="486.44" width="37.95" height="4.94" fill="#8a008a"/><rect x="565.00" y="486.44" width="37.55" height="4.94" fill="#260026"/><rect x="602.50" y="486.44" width="37.65" height="4.94" fill="#b000b0"/><rect x="414.80" y="491.34" width="37.75" height="4.94" fill="#8a8a00"/><rect x="452.50" y="491.34" width="37.15" height="4.94" fill="#454500"/><rect x="489.60" y="491.34" width="37.55" height="4.94" fill="#7a7a00"/><rect x="527.10" y="491.34" width="37.95" height="4.94" fill="#8a008a"/><rect x="565.00" y="491.34" width="37.55" height="4.94" fill="#140014"/><rect x="602.50" y="491.34" width="37.65" height="4.94" fill="#ab00ab"/><rect x="414.80" y="496.23" width="37.75" height="4.94" fill="#b0b000"/><rect x="452.50" y="496.23" width="37.15" height="4.94" fill="#4a4a00"/><rect x="489.60" y="496.23" width="37.55" height="4.94" fill="#454500"/><rect x="527.10" y="496.23" width="37.95" height="4.94" fill="#660066"/><rect x="565.00" y="496.23" width="37.55" height="4.94" fill="#0a000a"/><rect x="602.50" y="496.23" width="37.65" height="4.94" fill="#d100d1"/><rect x="414.80" y="501.13" width="37.75" height="4.94" fill="#c7c700"/><rect x="452.50" y="501.13" width="37.15" height="4.94" fill="#6b6b00"/><rect x="489.60" y="501.13" width="37.55" height="4.94" fill="#212100"/><rect x="527.10" y="501.13" width="37.95" height="4.94" fill="#940094"/><rect x="565.00" y="501.13" width="37.55" height="4.94" fill="#400040"/><rect x="602.50" y="501.13" width="37.65" height="4.94" fill="#850085"/><rect x="414.80" y="506.02" width="37.75" height="4.94" fill="#8a8a00"/><rect x="452.50" y="506.02" width="37.15" height="4.94" fill="#7a7a00"/><rect x="489.60" y="506.02" width="37.55" height="4.94" fill="#595900"/><rect x="527.10" y="506.02" width="37.95" height="4.94" fill="#a100a1"/><rect x="565.00" y="506.02" width="37.55" height="4.94" fill="#750075"/><rect x="602.50" y="506.02" width="37.65" height="4.94" fill="#4f004f"/><rect x="414.80" y="510.92" width="37.75" height="4.94" fill="#a8a800"/><rect x="452.50" y="510.92" width="37.15" height="4.94" fill="#707000"/><rect x="489.60" y="510.92" width="37.55" height="4.94" fill="#404000"/><rect x="527.10" y="510.92" width="37.95" height="4.94" fill="#990099"/><rect x="565.00" y="510.92" width="37.55" height="4.94" fill="#750075"/><rect x="602.50" y="510.92" width="37.65" height="4.94" fill="#610061"/><rect x="414.80" y="515.81" width="37.75" height="4.94" fill="#c7c700"/><rect x="452.50" y="515.81" width="37.15" height="4.94" fill="#141400"/><rect x="489.60" y="515.81" width="37.55" height="4.94" fill="#454500"/><rect x="527.10" y="515.81" width="37.95" height="4.94" fill="#bf00bf"/><rect x="565.00" y="515.81" width="37.55" height="4.94" fill="#3b003b"/><rect x="602.50" y="515.81" width="37.65" height="4.94" fill="#300030"/><rect x="414.80" y="520.71" width="37.75" height="4.94" fill="#999900"/><rect x="452.50" y="520.71" width="37.15" height="4.94" fill="#303000"/><rect x="489.60" y="520.71" width="37.55" height="4.94" fill="#8a8a00"/><rect x="527.10" y="520.71" width="37.95" height="4.94" fill="#bf00bf"/><rect x="565.00" y="520.71" width="37.55" height="4.94" fill="#400040"/><rect x="602.50" y="520.71" width="37.65" height="4.94" fill="#4a004a"/><rect x="414.80" y="525.80" width="37.75" height="4.99" fill="#3b003b"/><rect x="452.50" y="525.80" width="37.15" height="4.99" fill="#4a004a"/><rect x="489.60" y="525.80" width="37.55" height="4.99" fill="#4a004a"/><rect x="527.10" y="525.80" width="37.95" height="4.99" fill="#d4d400"/><rect x="565.00" y="525.80" width="37.55" height="4.99" fill="#7a7a00"/><rect x="602.50" y="525.80" width="37.65" height="4.99" fill="#700070"/><rect x="414.80" y="530.74" width="37.75" height="4.99" fill="#540054"/><rect x="452.50" y="530.74" width="37.15" height="4.99" fill="#3b003b"/><rect x="489.60" y="530.74" width="37.55" height="4.99" fill="#290029"/><rect x="527.10" y="530.74" width="37.95" height="4.99" fill="#d9d900"/><rect x="565.00" y="530.74" width="37.55" height="4.99" fill="#616100"/><rect x="602.50" y="530.74" width="37.65" height="4.99" fill="#700070"/><rect x="414.80" y="535.67" width="37.75" height="4.99" fill="#610061"/><rect x="452.50" y="535.67" width="37.15" height="4.99" fill="#140014"/><rect x="489.60" y="535.67" width="37.55" height="4.99" fill="#850085"/><rect x="527.10" y="535.67" width="37.95" height="4.99" fill="#e8e800"/><rect x="565.00" y="535.67" width="37.55" height="4.99" fill="#404000"/><rect x="602.50" y="535.67" width="37.65" height="4.99" fill="#290029"/><rect x="414.80" y="540.61" width="37.75" height="4.99" fill="#a800a8"/><rect x="452.50" y="540.61" width="37.15" height="4.99" fill="#290029"/><rect x="489.60" y="540.61" width="37.55" height="4.99" fill="#540054"/><rect x="527.10" y="540.61" width="37.95" height="4.99" fill="#d4d400"/><rect x="565.00" y="540.61" width="37.55" height="4.99" fill="#616100"/><rect x="602.50" y="540.61" width="37.65" height="4.99" fill="#0f000f"/><rect x="414.80" y="545.54" width="37.75" height="4.99" fill="#870087"/><rect x="452.50" y="545.54" width="37.15" height="4.99" fill="#450045"/><rect x="489.60" y="545.54" width="37.55" height="4.99" fill="#4f004f"/><rect x="527.10" y="545.54" width="37.95" height="4.99" fill="#d4d400"/><rect x="565.00" y="545.54" width="37.55" height="4.99" fill="#6b6b00"/><rect x="602.50" y="545.54" width="37.65" height="4.99" fill="#3b003b"/><rect x="414.80" y="550.48" width="37.75" height="4.99" fill="#850085"/><rect x="452.50" y="550.48" width="37.15" height="4.99" fill="#590059"/><rect x="489.60" y="550.48" width="37.55" height="4.99" fill="#4f004f"/><rect x="527.10" y="550.48" width="37.95" height="4.99" fill="#f5f500"/><rect x="565.00" y="550.48" width="37.55" height="4.99" fill="#0a0a00"/><rect x="602.50" y="550.48" width="37.65" height="4.99" fill="#303000"/><rect x="414.80" y="555.41" width="37.75" height="4.99" fill="#a100a1"/><rect x="452.50" y="555.41" width="37.15" height="4.99" fill="#450045"/><rect x="489.60" y="555.41" width="37.55" height="4.99" fill="#4a004a"/><rect x="527.10" y="555.41" width="37.95" height="4.99" fill="#d1d100"/><rect x="565.00" y="555.41" width="37.55" height="4.99" fill="#363600"/><rect x="602.50" y="555.41" width="37.65" height="4.99" fill="#404000"/><rect x="414.80" y="560.35" width="37.75" height="4.99" fill="#990099"/><rect x="452.50" y="560.35" width="37.15" height="4.99" fill="#3b003b"/><rect x="489.60" y="560.35" width="37.55" height="4.99" fill="#610061"/><rect x="527.10" y="560.35" width="37.95" height="4.99" fill="#cccc00"/><rect x="565.00" y="560.35" width="37.55" height="4.99" fill="#303000"/><rect x="602.50" y="560.35" width="37.65" height="4.99" fill="#4f4f00"/><rect x="414.80" y="565.29" width="37.75" height="4.99" fill="#a800a8"/><rect x="452.50" y="565.29" width="37.15" height="4.99" fill="#140014"/><rect x="489.60" y="565.29" width="37.55" height="4.99" fill="#660066"/><rect x="527.10" y="565.29" width="37.95" height="4.99" fill="#cccc00"/><rect x="565.00" y="565.29" width="37.55" height="4.99" fill="#000000"/><rect x="602.50" y="565.29" width="37.65" height="4.99" fill="#4f4f00"/><rect x="414.80" y="570.22" width="37.75" height="4.99" fill="#990099"/><rect x="452.50" y="570.22" width="37.15" height="4.99" fill="#000000"/><rect x="489.60" y="570.22" width="37.55" height="4.99" fill="#800080"/><rect x="527.10" y="570.22" width="37.95" height="4.99" fill="#cccc00"/><rect x="565.00" y="570.22" width="37.55" height="4.99" fill="#404000"/><rect x="602.50" y="570.22" width="37.65" height="4.99" fill="#141400"/><rect x="414.80" y="575.16" width="37.75" height="4.99" fill="#ff00ff"/><rect x="452.50" y="575.16" width="37.15" height="4.99" fill="#000000"/><rect x="489.60" y="575.16" width="37.55" height="4.99" fill="#260026"/><rect x="527.10" y="575.16" width="37.95" height="4.99" fill="#7a7a00"/><rect x="565.00" y="575.16" width="37.55" height="4.99" fill="#545400"/><rect x="602.50" y="575.16" width="37.65" height="4.99" fill="#363600"/><rect x="414.80" y="580.09" width="37.75" height="4.99" fill="#e000e0"/><rect x="452.50" y="580.09" width="37.15" height="4.99" fill="#3b003b"/><rect x="489.60" y="580.09" width="37.55" height="4.99" fill="#000000"/><rect x="527.10" y="580.09" width="37.95" height="4.99" fill="#7a7a00"/><rect x="565.00" y="580.09" width="37.55" height="4.99" fill="#454500"/><rect x="602.50" y="580.09" width="37.65" height="4.99" fill="#707000"/><rect x="414.80" y="585.03" width="37.75" height="4.99" fill="#e000e0"/><rect x="452.50" y="585.03" width="37.15" height="4.99" fill="#210021"/><rect x="489.60" y="585.03" width="37.55" height="4.99" fill="#210021"/><rect x="527.10" y="585.03" width="37.95" height="4.99" fill="#8a8a00"/><rect x="565.00" y="585.03" width="37.55" height="4.99" fill="#0a0a00"/><rect x="602.50" y="585.03" width="37.65" height="4.99" fill="#999900"/><rect x="414.80" y="589.96" width="37.75" height="4.99" fill="#750075"/><rect x="452.50" y="589.96" width="37.15" height="4.99" fill="#4a004a"/><rect x="489.60" y="589.96" width="37.55" height="4.99" fill="#800080"/><rect x="527.10" y="589.96" width="37.95" height="4.99" fill="#b0b000"/><rect x="565.00" y="589.96" width="37.55" height="4.99" fill="#0f000f"/><rect x="602.50" y="589.96" width="37.65" height="4.99" fill="#999900"/><rect x="414.80" y="594.90" width="37.75" height="4.99" fill="#700070"/><rect x="452.50" y="594.90" width="37.15" height="4.99" fill="#750075"/><rect x="489.60" y="594.90" width="37.55" height="4.99" fill="#3b003b"/><rect x="527.10" y="594.90" width="37.95" height="4.99" fill="#abab00"/><rect x="565.00" y="594.90" width="37.55" height="4.99" fill="#300030"/><rect x="602.50" y="594.90" width="37.65" height="4.99" fill="#a1a100"/><rect x="414.80" y="599.84" width="37.75" height="4.99" fill="#4a004a"/><rect x="452.50" y="599.84" width="37.15" height="4.99" fill="#700070"/><rect x="489.60" y="599.84" width="37.55" height="4.99" fill="#540054"/><rect x="527.10" y="599.84" width="37.95" height="4.99" fill="#c7c700"/><rect x="565.00" y="599.84" width="37.55" height="4.99" fill="#300030"/><rect x="602.50" y="599.84" width="37.65" height="4.99" fill="#8a8a00"/><rect x="414.80" y="604.77" width="37.75" height="4.99" fill="#4a004a"/><rect x="452.50" y="604.77" width="37.15" height="4.99" fill="#7a007a"/><rect x="489.60" y="604.77" width="37.55" height="4.99" fill="#750075"/><rect x="527.10" y="604.77" width="37.95" height="4.99" fill="#b8b800"/><rect x="565.00" y="604.77" width="37.55" height="4.99" fill="#212100"/><rect x="602.50" y="604.77" width="37.65" height="4.99" fill="#8a8a00"/><rect x="414.80" y="609.71" width="37.75" height="4.99" fill="#450045"/><rect x="452.50" y="609.71" width="37.15" height="4.99" fill="#8f008f"/><rect x="489.60" y="609.71" width="37.55" height="4.99" fill="#660066"/><rect x="527.10" y="609.71" width="37.95" height="4.99" fill="#b0b000"/><rect x="565.00" y="609.71" width="37.55" height="4.99" fill="#0a0a00"/><rect x="602.50" y="609.71" width="37.65" height="4.99" fill="#8a8a00"/><rect x="414.80" y="614.64" width="37.75" height="4.99" fill="#750075"/><rect x="452.50" y="614.64" width="37.15" height="4.99" fill="#850085"/><rect x="489.60" y="614.64" width="37.55" height="4.99" fill="#4f004f"/><rect x="527.10" y="614.64" width="37.95" height="4.99" fill="#a8a800"/><rect x="565.00" y="614.64" width="37.55" height="4.99" fill="#262600"/><rect x="602.50" y="614.64" width="37.65" height="4.99" fill="#8f8f00"/><rect x="414.80" y="619.58" width="37.75" height="4.99" fill="#7a007a"/><rect x="452.50" y="619.58" width="37.15" height="4.99" fill="#800080"/><rect x="489.60" y="619.58" width="37.55" height="4.99" fill="#540054"/><rect x="527.10" y="619.58" width="37.95" height="4.99" fill="#a1a100"/><rect x="565.00" y="619.58" width="37.55" height="4.99" fill="#1a1a00"/><rect x="602.50" y="619.58" width="37.65" height="4.99" fill="#a1a100"/><rect x="414.80" y="624.51" width="37.75" height="4.99" fill="#b000b0"/><rect x="452.50" y="624.51" width="37.15" height="4.99" fill="#300030"/><rect x="489.60" y="624.51" width="37.55" height="4.99" fill="#4f004f"/><rect x="527.10" y="624.51" width="37.95" height="4.99" fill="#363600"/><rect x="565.00" y="624.51" width="37.55" height="4.99" fill="#4a4a00"/><rect x="602.50" y="624.51" width="37.65" height="4.99" fill="#c7c700"/><rect x="414.80" y="629.45" width="37.75" height="4.99" fill="#b800b8"/><rect x="452.50" y="629.45" width="37.15" height="4.99" fill="#3b003b"/><rect x="489.60" y="629.45" width="37.55" height="4.99" fill="#4a004a"/><rect x="527.10" y="629.45" width="37.95" height="4.99" fill="#4f4f00"/><rect x="565.00" y="629.45" width="37.55" height="4.99" fill="#595900"/><rect x="602.50" y="629.45" width="37.65" height="4.99" fill="#999900"/><rect x="414.80" y="634.39" width="37.75" height="4.99" fill="#8a008a"/><rect x="452.50" y="634.39" width="37.15" height="4.99" fill="#940094"/><rect x="489.60" y="634.39" width="37.55" height="4.99" fill="#3b003b"/><rect x="527.10" y="634.39" width="37.95" height="4.99" fill="#707000"/><rect x="565.00" y="634.39" width="37.55" height="4.99" fill="#616100"/><rect x="602.50" y="634.39" width="37.65" height="4.99" fill="#707000"/><rect x="414.80" y="639.32" width="37.75" height="4.99" fill="#8a008a"/><rect x="452.50" y="639.32" width="37.15" height="4.99" fill="#800080"/><rect x="489.60" y="639.32" width="37.55" height="4.99" fill="#3b003b"/><rect x="527.10" y="639.32" width="37.95" height="4.99" fill="#4a4a00"/><rect x="565.00" y="639.32" width="37.55" height="4.99" fill="#8f8f00"/><rect x="602.50" y="639.32" width="37.65" height="4.99" fill="#8f8f00"/><rect x="414.80" y="644.26" width="37.75" height="4.99" fill="#750075"/><rect x="452.50" y="644.26" width="37.15" height="4.99" fill="#700070"/><rect x="489.60" y="644.26" width="37.55" height="4.99" fill="#7a007a"/><rect x="527.10" y="644.26" width="37.95" height="4.99" fill="#808000"/><rect x="565.00" y="644.26" width="37.55" height="4.99" fill="#707000"/><rect x="602.50" y="644.26" width="37.65" height="4.99" fill="#808000"/><rect x="414.80" y="649.19" width="37.75" height="4.99" fill="#610061"/><rect x="452.50" y="649.19" width="37.15" height="4.99" fill="#700070"/><rect x="489.60" y="649.19" width="37.55" height="4.99" fill="#7a007a"/><rect x="527.10" y="649.19" width="37.95" height="4.99" fill="#8a8a00"/><rect x="565.00" y="649.19" width="37.55" height="4.99" fill="#545400"/><rect x="602.50" y="649.19" width="37.65" height="4.99" fill="#8f8f00"/><rect x="414.80" y="654.13" width="37.75" height="4.99" fill="#990099"/><rect x="452.50" y="654.13" width="37.15" height="4.99" fill="#610061"/><rect x="489.60" y="654.13" width="37.55" height="4.99" fill="#540054"/><rect x="527.10" y="654.13" width="37.95" height="4.99" fill="#8a8a00"/><rect x="565.00" y="654.13" width="37.55" height="4.99" fill="#404000"/><rect x="602.50" y="654.13" width="37.65" height="4.99" fill="#8f8f00"/><rect x="414.80" y="659.06" width="37.75" height="4.99" fill="#b000b0"/><rect x="452.50" y="659.06" width="37.15" height="4.99" fill="#3b003b"/><rect x="489.60" y="659.06" width="37.55" height="4.99" fill="#610061"/><rect x="527.10" y="659.06" width="37.95" height="4.99" fill="#8a8a00"/><rect x="565.00" y="659.06" width="37.55" height="4.99" fill="#454500"/><rect x="602.50" y="659.06" width="37.65" height="4.99" fill="#8a8a00"/>
<g stroke="#b0b0b0" stroke-opacity="0.3" stroke-width="0.45"><line x1="415.8" y1="437.49" x2="640.1" y2="437.49"/><line x1="415.8" y1="442.39" x2="640.1" y2="442.39"/><line x1="415.8" y1="447.28" x2="640.1" y2="447.28"/><line x1="415.8" y1="452.18" x2="640.1" y2="452.18"/><line x1="415.8" y1="457.07" x2="640.1" y2="457.07"/><line x1="415.8" y1="461.97" x2="640.1" y2="461.97"/><line x1="415.8" y1="466.86" x2="640.1" y2="466.86"/><line x1="415.8" y1="471.76" x2="640.1" y2="471.76"/><line x1="415.8" y1="476.65" x2="640.1" y2="476.65"/><line x1="415.8" y1="481.55" x2="640.1" y2="481.55"/><line x1="415.8" y1="486.44" x2="640.1" y2="486.44"/><line x1="415.8" y1="491.34" x2="640.1" y2="491.34"/><line x1="415.8" y1="496.23" x2="640.1" y2="496.23"/><line x1="415.8" y1="501.13" x2="640.1" y2="501.13"/><line x1="415.8" y1="506.02" x2="640.1" y2="506.02"/><line x1="415.8" y1="510.92" x2="640.1" y2="510.92"/><line x1="415.8" y1="515.81" x2="640.1" y2="515.81"/><line x1="415.8" y1="520.71" x2="640.1" y2="520.71"/><line x1="415.8" y1="530.74" x2="640.1" y2="530.74"/><line x1="415.8" y1="535.67" x2="640.1" y2="535.67"/><line x1="415.8" y1="540.61" x2="640.1" y2="540.61"/><line x1="415.8" y1="545.54" x2="640.1" y2="545.54"/><line x1="415.8" y1="550.48" x2="640.1" y2="550.48"/><line x1="415.8" y1="555.41" x2="640.1" y2="555.41"/><line x1="415.8" y1="560.35" x2="640.1" y2="560.35"/><line x1="415.8" y1="565.29" x2="640.1" y2="565.29"/><line x1="415.8" y1="570.22" x2="640.1" y2="570.22"/><line x1="415.8" y1="575.16" x2="640.1" y2="575.16"/><line x1="415.8" y1="580.09" x2="640.1" y2="580.09"/><line x1="415.8" y1="585.03" x2="640.1" y2="585.03"/><line x1="415.8" y1="589.96" x2="640.1" y2="589.96"/><line x1="415.8" y1="594.90" x2="640.1" y2="594.90"/><line x1="415.8" y1="599.84" x2="640.1" y2="599.84"/><line x1="415.8" y1="604.77" x2="640.1" y2="604.77"/><line x1="415.8" y1="609.71" x2="640.1" y2="609.71"/><line x1="415.8" y1="614.64" x2="640.1" y2="614.64"/><line x1="415.8" y1="619.58" x2="640.1" y2="619.58"/><line x1="415.8" y1="624.51" x2="640.1" y2="624.51"/><line x1="415.8" y1="629.45" x2="640.1" y2="629.45"/><line x1="415.8" y1="634.39" x2="640.1" y2="634.39"/><line x1="415.8" y1="639.32" x2="640.1" y2="639.32"/><line x1="415.8" y1="644.26" x2="640.1" y2="644.26"/><line x1="415.8" y1="649.19" x2="640.1" y2="649.19"/><line x1="415.8" y1="654.13" x2="640.1" y2="654.13"/><line x1="415.8" y1="659.06" x2="640.1" y2="659.06"/><line x1="452.50" y1="432.6" x2="452.50" y2="664.0"/><line x1="489.60" y1="432.6" x2="489.60" y2="664.0"/><line x1="527.10" y1="432.6" x2="527.10" y2="664.0"/><line x1="565.00" y1="432.6" x2="565.00" y2="664.0"/><line x1="602.50" y1="432.6" x2="602.50" y2="664.0"/></g>
<rect x="414.8" y="427.1" width="112.3" height="4.1" fill="#0f8c8c"/>
<rect x="527.1" y="427.1" width="113.0" height="4.1" fill="#e06f00"/>
<g stroke="#ffffff" stroke-opacity="0.35" stroke-width="0.5"><line x1="452.50" y1="427.1" x2="452.50" y2="431.2"/><line x1="489.60" y1="427.1" x2="489.60" y2="431.2"/><line x1="565.00" y1="427.1" x2="565.00" y2="431.2"/><line x1="602.50" y1="427.1" x2="602.50" y2="431.2"/></g>
<g fill="none" stroke="#1aaee6" stroke-width="1.8"><rect x="414.9" y="431.9" width="112.2" height="93.8"/><rect x="527.1" y="525.7" width="112.2" height="138.3"/></g>
<g fill="none" stroke="#8a8a8a" stroke-width="0.8"><path d="M433.6 427.1 V418.3 H490 V423.6"/><path d="M471.3 427.1 V423.6 H508.5 V427.1"/><path d="M461.6 418.3 V405.5 H574.5 V418.4"/><path d="M546.5 427.1 V418.4 H602.1 V420.7"/><path d="M583.4 427.1 V420.7 H621.2 V427.1"/></g>
<text x="414.3" y="415.4" font-size="12" font-weight="bold" fill="#17959a" text-anchor="start" textLength="42.3" lengthAdjust="spacingAndGlyphs" >Control</text>
<text x="579.9" y="414.9" font-size="12.2" font-weight="bold" fill="#e07000" text-anchor="start" textLength="43.9" lengthAdjust="spacingAndGlyphs" >Treated</text>
<path d="M414.0 439.9 H413.0 V444.8 H414.0 M414.0 435.0 H411.9 V442.4 H413.0 M411.9 438.7 H410.7 V449.7 H414.0 M414.0 454.6 H413.0 V459.5 H414.0 M410.7 444.2 H409.3 V457.1 H413.0 M414.0 469.3 H413.0 V474.2 H414.0 M414.0 464.4 H411.9 V471.8 H413.0 M414.0 479.1 H413.0 V484.0 H414.0 M414.0 488.9 H413.0 V493.8 H414.0 M413.0 481.5 H411.8 V491.3 H413.0 M411.9 468.1 H410.3 V486.4 H411.8 M414.0 498.7 H413.0 V503.6 H414.0 M414.0 508.5 H413.0 V513.4 H414.0 M413.0 501.1 H411.8 V510.9 H413.0 M414.0 518.3 H413.0 V523.2 H414.0 M411.8 506.0 H410.4 V520.7 H413.0 M410.3 477.3 H408.7 V513.4 H410.4 M409.3 450.6 H403.9 V495.3 H408.7 M414.0 538.1 H413.0 V543.1 H414.0 M414.0 533.2 H411.9 V540.6 H413.0 M411.9 536.9 H410.7 V548.0 H414.0 M414.0 528.3 H409.4 V542.5 H410.7 M414.0 567.8 H413.0 V572.7 H414.0 M414.0 562.8 H411.9 V570.2 H413.0 M414.0 557.9 H410.7 V566.5 H411.9 M414.0 552.9 H409.4 V562.2 H410.7 M414.0 582.6 H413.0 V587.5 H414.0 M414.0 577.6 H411.9 V585.0 H413.0 M411.9 581.3 H410.7 V592.4 H414.0 M414.0 597.4 H413.0 V602.3 H414.0 M410.7 586.9 H409.3 V599.8 H413.0 M409.4 557.6 H407.7 V593.4 H409.3 M414.0 607.2 H413.0 V612.2 H414.0 M414.0 627.0 H413.0 V631.9 H414.0 M414.0 622.0 H411.9 V629.5 H413.0 M414.0 617.1 H410.7 V625.7 H411.9 M413.0 609.7 H409.3 V621.4 H410.7 M414.0 636.9 H413.0 V641.8 H414.0 M414.0 656.6 H413.0 V661.5 H414.0 M414.0 651.7 H411.9 V659.1 H413.0 M414.0 646.7 H410.7 V655.4 H411.9 M413.0 639.3 H409.3 V651.0 H410.7 M409.3 615.6 H407.6 V645.2 H409.3 M407.7 575.5 H405.7 V630.4 H407.6 M409.4 535.4 H401.5 V602.9 H405.7 M403.9 473.0 H393.0 V569.1 H401.5" fill="none" stroke="#7a7a7a" stroke-width="0.55"/>
<text x="642" y="436.6" font-size="4.3" fill="#555555" textLength="10.4" lengthAdjust="spacingAndGlyphs">3UP1</text>
<text x="642" y="441.5" font-size="4.3" fill="#555555" textLength="15.6" lengthAdjust="spacingAndGlyphs">SMIKX1</text>
<text x="642" y="446.4" font-size="4.3" fill="#555555" textLength="10.4" lengthAdjust="spacingAndGlyphs">RHOU</text>
<text x="642" y="451.3" font-size="4.3" fill="#555555" textLength="5.2" lengthAdjust="spacingAndGlyphs">HP</text>
<text x="642" y="456.2" font-size="4.3" fill="#555555" textLength="13.0" lengthAdjust="spacingAndGlyphs">DDIT4</text>
<text x="642" y="461.1" font-size="4.3" fill="#555555" textLength="23.4" lengthAdjust="spacingAndGlyphs">TNFAIP8L1</text>
<text x="642" y="466.0" font-size="4.3" fill="#555555" textLength="30.0" lengthAdjust="spacingAndGlyphs">RP11-SMIP1.2</text>
<text x="642" y="470.9" font-size="4.3" fill="#555555" textLength="15.6" lengthAdjust="spacingAndGlyphs">KAZ1DP</text>
<text x="642" y="475.8" font-size="4.3" fill="#555555" textLength="20.8" lengthAdjust="spacingAndGlyphs">KIAA1H86</text>
<text x="642" y="480.7" font-size="4.3" fill="#555555" textLength="10.4" lengthAdjust="spacingAndGlyphs">NMT1</text>
<text x="642" y="485.6" font-size="4.3" fill="#555555" textLength="15.6" lengthAdjust="spacingAndGlyphs">JAG2P2</text>
<text x="642" y="490.5" font-size="4.3" fill="#555555" textLength="13.0" lengthAdjust="spacingAndGlyphs">DKFFT</text>
<text x="642" y="495.4" font-size="4.3" fill="#555555" textLength="13.0" lengthAdjust="spacingAndGlyphs">KCNQ0</text>
<text x="642" y="500.3" font-size="4.3" fill="#555555" textLength="18.2" lengthAdjust="spacingAndGlyphs">ANGPTL4</text>
<rect x="641.4" y="501.2" width="18.5" height="4.8" rx="0.8" fill="#f2b8f0" stroke="#e050d0" stroke-width="0.5"/>
<text x="642" y="505.2" font-size="4.3" fill="#555555" textLength="15.6" lengthAdjust="spacingAndGlyphs">ZBTB10</text>
<text x="642" y="510.1" font-size="4.3" fill="#555555" textLength="13.0" lengthAdjust="spacingAndGlyphs">EFNP1</text>
<text x="642" y="515.0" font-size="4.3" fill="#555555" textLength="13.0" lengthAdjust="spacingAndGlyphs">EFC1A</text>
<text x="642" y="519.9" font-size="4.3" fill="#555555" textLength="15.6" lengthAdjust="spacingAndGlyphs">MPV17L</text>
<rect x="641.4" y="520.8" width="18.5" height="4.8" rx="0.8" fill="#f2b8f0" stroke="#e050d0" stroke-width="0.5"/>
<text x="642" y="524.8" font-size="4.3" fill="#555555" textLength="15.6" lengthAdjust="spacingAndGlyphs">CSRNP2</text>
<text x="642" y="529.9" font-size="4.3" fill="#555555" textLength="10.4" lengthAdjust="spacingAndGlyphs">COCH</text>
<text x="642" y="534.8" font-size="4.3" fill="#555555" textLength="7.8" lengthAdjust="spacingAndGlyphs">ZP2</text>
<text x="642" y="539.7" font-size="4.3" fill="#555555" textLength="15.6" lengthAdjust="spacingAndGlyphs">ATP1A2</text>
<text x="642" y="544.7" font-size="4.3" fill="#555555" textLength="18.2" lengthAdjust="spacingAndGlyphs">ADAMTS4</text>
<text x="642" y="549.6" font-size="4.3" fill="#555555" textLength="10.4" lengthAdjust="spacingAndGlyphs">CSF1</text>
<text x="642" y="554.5" font-size="4.3" fill="#555555" textLength="13.0" lengthAdjust="spacingAndGlyphs">PTPRP</text>
<text x="642" y="559.5" font-size="4.3" fill="#555555" textLength="13.0" lengthAdjust="spacingAndGlyphs">PDE4D</text>
<text x="642" y="564.4" font-size="4.3" fill="#555555" textLength="30.0" lengthAdjust="spacingAndGlyphs">RP11-313FC.4</text>
<rect x="641.4" y="565.4" width="17" height="4.8" rx="0.8" fill="#fff2a0" stroke="#f0d040" stroke-width="0.5"/>
<text x="642" y="569.4" font-size="4.3" fill="#555555" textLength="10.4" lengthAdjust="spacingAndGlyphs">FGL3</text>
<rect x="641.4" y="570.3" width="17" height="4.8" rx="0.8" fill="#fff2a0" stroke="#f0d040" stroke-width="0.5"/>
<text x="642" y="574.3" font-size="4.3" fill="#555555" textLength="10.4" lengthAdjust="spacingAndGlyphs">PTP3</text>
<rect x="641.4" y="575.2" width="17" height="4.8" rx="0.8" fill="#fff2a0" stroke="#f0d040" stroke-width="0.5"/>
<text x="642" y="579.2" font-size="4.3" fill="#555555" textLength="7.8" lengthAdjust="spacingAndGlyphs">JUN</text>
<text x="642" y="584.2" font-size="4.3" fill="#555555" textLength="10.4" lengthAdjust="spacingAndGlyphs">FZD8</text>
<text x="642" y="589.1" font-size="4.3" fill="#555555" textLength="13.0" lengthAdjust="spacingAndGlyphs">PLBD5</text>
<text x="642" y="594.0" font-size="4.3" fill="#555555" textLength="20.8" lengthAdjust="spacingAndGlyphs">MIR100HG</text>
<text x="642" y="599.0" font-size="4.3" fill="#555555" textLength="13.0" lengthAdjust="spacingAndGlyphs">SH2D5</text>
<text x="642" y="603.9" font-size="4.3" fill="#555555" textLength="26.0" lengthAdjust="spacingAndGlyphs">AC058791.1</text>
<text x="642" y="608.8" font-size="4.3" fill="#555555" textLength="30.0" lengthAdjust="spacingAndGlyphs">EPB41L4A-AS1</text>
<text x="642" y="613.8" font-size="4.3" fill="#555555" textLength="15.6" lengthAdjust="spacingAndGlyphs">SMAGC3</text>
<text x="642" y="618.7" font-size="4.3" fill="#555555" textLength="10.4" lengthAdjust="spacingAndGlyphs">DYSK</text>
<text x="642" y="623.6" font-size="4.3" fill="#555555" textLength="7.8" lengthAdjust="spacingAndGlyphs">NEN</text>
<text x="642" y="628.6" font-size="4.3" fill="#555555" textLength="18.2" lengthAdjust="spacingAndGlyphs">SLC30F2</text>
<text x="642" y="633.5" font-size="4.3" fill="#555555" textLength="7.8" lengthAdjust="spacingAndGlyphs">NES</text>
<text x="642" y="638.5" font-size="4.3" fill="#555555" textLength="7.8" lengthAdjust="spacingAndGlyphs">VGF</text>
<text x="642" y="643.4" font-size="4.3" fill="#555555" textLength="15.6" lengthAdjust="spacingAndGlyphs">TNS2A3</text>
<text x="642" y="648.3" font-size="4.3" fill="#555555" textLength="15.6" lengthAdjust="spacingAndGlyphs">TCERG1</text>
<text x="642" y="653.3" font-size="4.3" fill="#555555" textLength="15.6" lengthAdjust="spacingAndGlyphs">DIP2B2</text>
<text x="642" y="658.2" font-size="4.3" fill="#555555" textLength="10.4" lengthAdjust="spacingAndGlyphs">MTCH</text>
<text x="642" y="663.1" font-size="4.3" fill="#555555" textLength="15.6" lengthAdjust="spacingAndGlyphs">CRABP2</text>
<polygon points="650.6,425.9 649.9,432.6 656.8,430" fill="#8c0c9c" stroke="#6a0a80" stroke-width="0.4"/>
<defs><linearGradient id="ck" x1="0" y1="0" x2="0" y2="1"><stop offset="0" stop-color="#ffff00"/><stop offset="0.5" stop-color="#000000"/><stop offset="1" stop-color="#ff00ff"/></linearGradient></defs>
<rect x="671.2" y="427" width="4.4" height="60.9" fill="url(#ck)"/>
<text x="677.2" y="435.9" font-size="4.3" font-weight="normal" fill="#555" text-anchor="start" >1.5</text>
<text x="677.2" y="443.2" font-size="4.3" font-weight="normal" fill="#555" text-anchor="start" >1</text>
<text x="677.2" y="451.4" font-size="4.3" font-weight="normal" fill="#555" text-anchor="start" >0.5</text>
<text x="677.2" y="459.2" font-size="4.3" font-weight="normal" fill="#555" text-anchor="start" >0</text>
<text x="677.2" y="466.9" font-size="4.3" font-weight="normal" fill="#555" text-anchor="start" >&#8722;0.5</text>
<text x="677.2" y="474.6" font-size="4.3" font-weight="normal" fill="#555" text-anchor="start" >&#8722;1</text>
<text x="677.2" y="482.7" font-size="4.3" font-weight="normal" fill="#555" text-anchor="start" >&#8722;1.5</text>
<rect x="414.4" y="665.1" width="225.3" height="13.5" fill="#ffffff" stroke="#888" stroke-width="0.9"/>
<text x="417.4" y="674.4" font-size="9.0" font-weight="bold" fill="#16999a" text-anchor="start" textLength="32.0" lengthAdjust="spacingAndGlyphs" >C2_F(56)</text>
<text x="452.9" y="674.4" font-size="9.0" font-weight="bold" fill="#16999a" text-anchor="start" textLength="35.9" lengthAdjust="spacingAndGlyphs" >C1_M(45)</text>
<text x="490.9" y="674.4" font-size="9.0" font-weight="bold" fill="#16999a" text-anchor="start" textLength="35.6" lengthAdjust="spacingAndGlyphs" >C3_M(46)</text>
<text x="530.8" y="674.4" font-size="9.0" font-weight="bold" fill="#dd6f10" text-anchor="start" textLength="31.6" lengthAdjust="spacingAndGlyphs" >T3_F(75)</text>
<text x="568.2" y="674.4" font-size="9.0" font-weight="bold" fill="#dd6f10" text-anchor="start" textLength="32.0" lengthAdjust="spacingAndGlyphs" >T1_F(65)</text>
<text x="605.6" y="674.4" font-size="9.0" font-weight="bold" fill="#dd6f10" text-anchor="start" textLength="31.5" lengthAdjust="spacingAndGlyphs" >T2_F(21)</text>
<text x="641.1" y="674.2" font-size="9.2" font-weight="bold" fill="#333" text-anchor="start" textLength="29.9" lengthAdjust="spacingAndGlyphs" >Sex(y.o.)</text></svg></body></html>
